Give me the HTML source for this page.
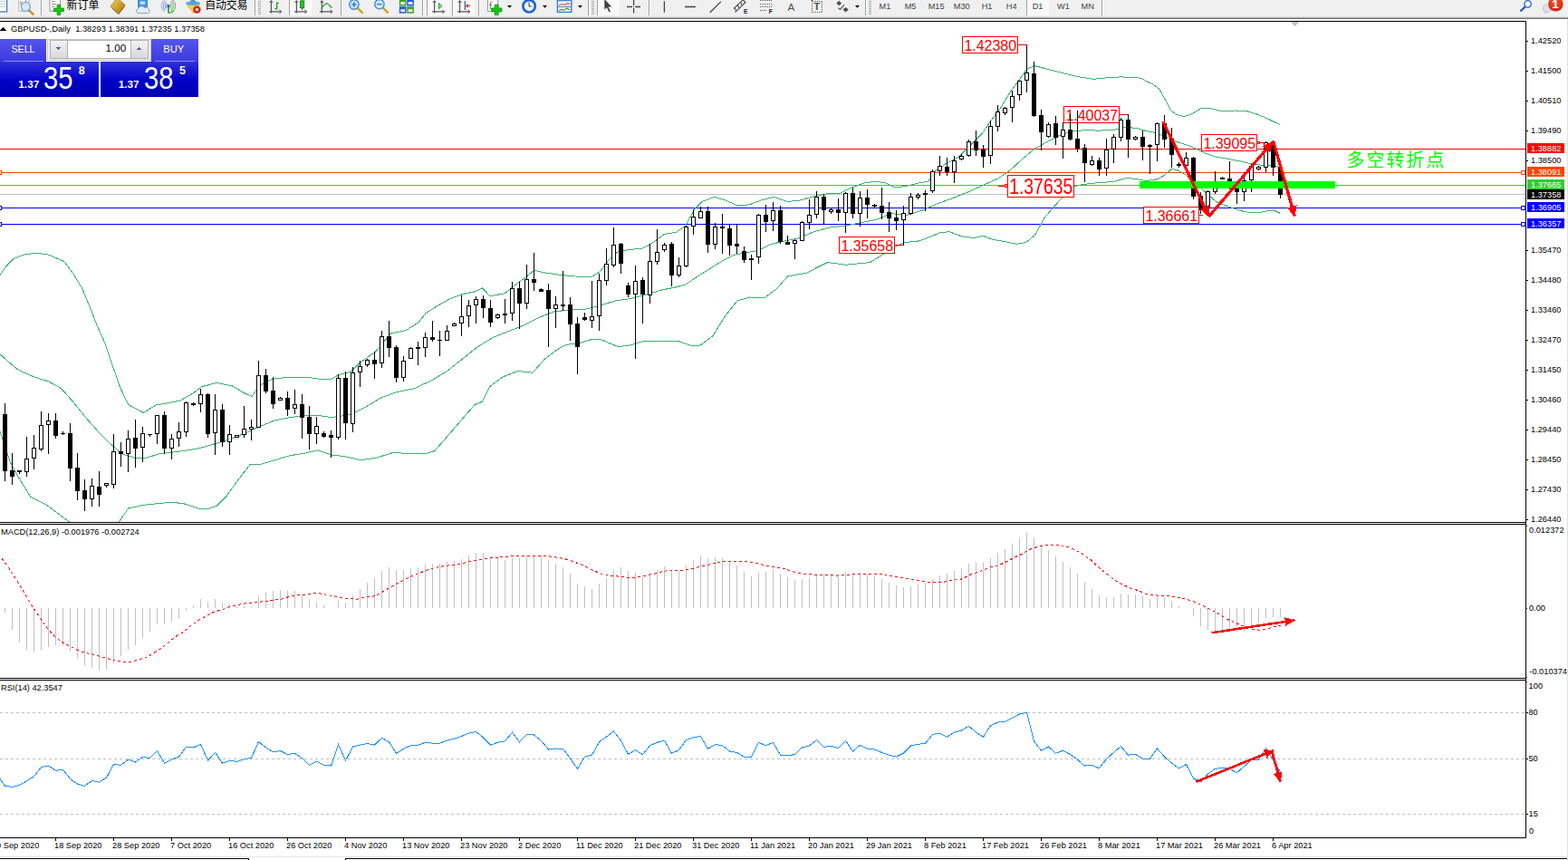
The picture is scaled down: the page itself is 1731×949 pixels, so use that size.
<!DOCTYPE html>
<html><head><meta charset="utf-8"><title>GBPUSD Daily</title>
<style>
html,body{margin:0;padding:0;background:#fff;}
body{width:1731px;height:949px;overflow:hidden;position:relative;font-family:"Liberation Sans", sans-serif;}
.t{position:absolute;white-space:nowrap;line-height:1;transform:translateY(-0.8465em);font-family:"Liberation Sans", sans-serif;}
.t[style*="text-align:center"]{transform:none;}
svg{position:absolute;left:0;top:0;}
</style></head><body>
<svg width="1731" height="949" viewBox="0 0 1731 949" shape-rendering="crispEdges">
<defs><clipPath id="cm"><rect x="0" y="24" width="1684" height="552"/></clipPath></defs>
<rect x="0" y="23" width="1685" height="1" fill="#000"/>
<rect x="1684" y="23" width="1" height="902" fill="#000"/>
<rect x="0" y="576" width="1685" height="1" fill="#000"/>
<rect x="0" y="578" width="1685" height="1" fill="#000"/>
<rect x="0" y="748" width="1685" height="1" fill="#000"/>
<rect x="0" y="750" width="1685" height="1" fill="#000"/>
<rect x="0" y="924" width="1685" height="1" fill="#000"/>
<rect x="0" y="945" width="1731" height="1" fill="#e6e6e6"/>
<rect x="0" y="947" width="275" height="1" fill="#000"/>
<rect x="274" y="947" width="1" height="2" fill="#000"/>
<rect x="381" y="947" width="1350" height="1" fill="#000"/>
<rect x="381" y="947" width="1" height="2" fill="#000"/>
<rect x="1730" y="21" width="1" height="928" fill="#e2e2e2"/>
<rect x="0" y="164" width="1684" height="1" fill="#ff0000"/>
<rect x="0" y="190" width="1684" height="1" fill="#ff4500"/>
<rect x="0" y="204" width="1684" height="1" fill="#32cd32"/>
<rect x="0" y="214" width="1684" height="1" fill="#c0c0c0"/>
<rect x="0" y="229" width="1684" height="1" fill="#0000ff"/>
<rect x="0" y="247" width="1684" height="1" fill="#0000ff"/>
<g clip-path="url(#cm)">
<polyline points="0.0,303.8 6.7,293.7 15.2,285.3 27.0,280.9 40.4,279.2 53.9,281.2 70.8,288.6 80.9,302.1 91.0,319.0 99.4,339.2 107.9,361.1 116.3,379.6 124.7,404.9 133.1,428.5 141.6,446.4 150.0,451.1 158.4,455.5 171.9,447.1 185.4,444.7 198.9,442.0 212.3,434.6 222.4,426.8 239.3,422.5 256.2,425.8 269.6,433.6 278.1,437.6 286.5,425.1 300.0,418.4 320.2,416.0 337.0,416.0 353.9,418.4 365.7,418.4 374.1,413.4 387.6,410.0 397.7,399.9 414.6,388.1 431.4,367.9 448.3,364.5 461.7,356.1 470.1,345.5 483.6,337.1 497.1,329.6 510.6,324.6 524.0,321.9 532.5,317.8 540.9,326.9 557.7,323.6 567.9,315.1 578.0,307.7 589.8,298.3 601.6,301.0 618.4,303.4 635.3,305.0 652.1,306.0 662.2,300.0 672.3,286.5 682.4,277.4 695.9,275.4 709.4,274.0 722.9,266.3 733.0,258.5 746.5,256.2 756.6,249.4 766.7,230.9 775.1,222.5 788.6,217.4 800.4,220.8 813.9,226.8 827.4,225.8 840.9,220.8 854.3,217.4 869.5,222.5 884.7,220.8 899.1,216.4 913.5,213.7 927.0,213.7 940.4,206.9 953.9,201.9 967.4,200.2 977.5,201.9 987.6,206.9 1001.1,205.3 1014.6,201.9 1024.7,200.2 1033.1,188.4 1044.9,180.0 1058.4,173.2 1071.9,159.8 1083.7,148.0 1095.5,131.1 1105.6,117.6 1115.7,100.8 1125.8,87.3 1134.2,75.5 1142.7,72.8 1156.2,76.2 1173.0,80.6 1189.9,84.6 1206.7,87.3 1223.6,85.6 1237.0,84.9 1253.9,85.6 1260.6,86.6 1265.9,90.0 1272.2,92.5 1279.5,97.9 1286.6,110.5 1292.2,121.6 1298.5,126.2 1306.9,128.6 1315.4,125.8 1320.6,122.7 1325.9,119.5 1336.4,119.5 1349.1,122.7 1363.8,122.0 1376.4,122.7 1387.0,125.8 1399.6,131.1 1413.3,137.8" fill="none" stroke="#3cb371" stroke-width="1"/>
<polyline points="0.0,390.8 10.1,399.9 20.2,408.3 37.1,415.7 53.9,421.1 67.4,428.5 80.9,443.7 94.4,460.5 107.9,475.7 121.3,489.2 134.8,501.0 148.3,505.0 161.8,505.0 175.3,501.0 188.7,499.3 202.2,497.6 219.1,494.9 235.9,490.2 252.8,485.1 269.6,478.4 286.5,470.7 303.3,463.9 320.2,460.5 337.0,458.9 353.9,458.9 365.7,460.5 374.1,459.5 387.6,457.2 404.4,448.7 421.3,438.6 438.2,432.6 457.5,428.6 476.9,419.6 493.7,409.5 510.6,396.0 527.4,382.6 544.3,372.4 561.1,365.7 578.0,359.0 594.8,350.5 611.7,343.8 628.5,342.1 645.4,341.4 662.2,337.1 679.1,332.0 695.9,329.6 712.8,325.3 729.6,320.2 746.5,316.8 756.6,314.1 770.1,305.0 783.6,296.6 797.0,288.2 810.5,281.4 824.0,278.7 837.5,276.4 851.0,269.6 864.4,266.3 881.3,262.9 899.1,255.5 916.9,250.8 933.7,249.1 950.6,245.7 967.4,242.3 984.3,235.6 1001.1,237.3 1018.0,232.2 1034.8,224.8 1051.7,218.7 1068.5,212.0 1085.4,204.3 1102.2,196.8 1115.7,187.4 1129.2,174.9 1142.7,163.8 1156.2,156.4 1169.8,149.3 1182.6,145.2 1197.4,143.7 1212.1,144.1 1229.0,143.7 1239.5,140.6 1254.3,141.2 1264.8,144.4 1275.3,146.5 1288.0,151.1 1298.5,156.4 1309.0,159.5 1317.5,162.7 1330.1,169.0 1342.7,173.2 1355.4,175.3 1370.1,178.1 1380.7,180.6 1393.3,182.3 1403.8,182.7 1413.3,184.4" fill="none" stroke="#3cb371" stroke-width="1"/>
<polyline points="0.0,475.7 5.1,490.9 11.8,511.1 20.2,526.3 33.7,548.2 50.6,556.6 64.0,566.7 77.5,576.8 82.6,580.9" fill="none" stroke="#3cb371" stroke-width="1"/>
<polyline points="129.4,578.8 141.6,561.0 158.4,557.3 175.3,555.6 188.7,554.2 202.2,555.6 219.1,561.0 229.2,561.7 239.3,558.3 249.4,548.2 262.9,529.6 276.4,512.1 286.5,512.8 303.3,507.7 320.2,502.7 337.0,500.0 350.5,496.9 365.7,502.0 380.9,503.7 397.7,507.7 414.6,505.4 434.8,499.3 455.0,501.0 471.9,500.0 479.9,497.6 524.0,446.6 532.5,443.2 540.9,426.4 554.4,416.3 571.2,409.5 588.1,411.2 601.6,396.0 615.0,385.9 625.1,380.2 638.6,379.2 652.1,374.8 662.2,374.1 672.3,378.5 682.4,382.6 695.9,380.9 709.4,376.8 722.9,376.5 749.9,376.8 763.3,381.5 773.4,380.9 786.9,370.8 800.4,348.9 813.9,332.0 827.4,328.0 844.2,328.6 857.7,318.5 869.5,305.0 891.4,301.0 900.0,296.3 913.5,289.5 933.7,292.2 960.7,289.5 974.1,281.1 987.6,272.7 997.7,267.6 1014.6,265.9 1028.1,260.9 1038.2,256.5 1048.3,255.8 1061.8,260.9 1075.3,262.6 1085.4,260.2 1095.5,264.2 1109.0,266.6 1122.4,269.3 1132.6,267.6 1142.7,259.2 1152.8,240.7 1162.9,228.9 1174.1,216.5 1184.6,205.9 1195.9,203.5 1212.1,201.6 1229.0,200.6 1243.7,196.4 1254.3,197.4 1264.8,199.5 1277.4,197.9 1285.9,193.2 1293.2,186.5 1300.6,188.0 1309.0,193.2 1317.5,199.5 1325.9,208.0 1334.3,215.3 1342.7,222.7 1353.3,226.9 1363.8,230.7 1372.2,233.2 1380.7,234.7 1391.2,234.3 1401.7,232.2 1408.0,232.8 1413.3,235.4" fill="none" stroke="#3cb371" stroke-width="1"/>
</g>
</svg>

<div style="position:absolute;left:0;top:43px;width:219px;height:64px;background:#fff"></div>
<div style="position:absolute;left:0;top:43px;width:51px;height:25px;background:linear-gradient(#5555ee,#3a3ae0)"></div>
<div style="position:absolute;left:167px;top:43px;width:52px;height:25px;background:linear-gradient(#5555ee,#3a3ae0)"></div>
<div style="position:absolute;left:0;top:68px;width:109px;height:39px;background:linear-gradient(#3030d8,#0000c8 55%,#0000b0)"></div>
<div style="position:absolute;left:111px;top:68px;width:108px;height:39px;background:linear-gradient(#3030d8,#0000c8 55%,#0000b0)"></div>
<div style="position:absolute;left:4px;top:67px;width:44px;height:1px;background:#8a8aff"></div>
<div style="position:absolute;left:171px;top:67px;width:44px;height:1px;background:#8a8aff"></div>
<div style="position:absolute;left:52px;top:43px;width:115px;height:24px;background:#f0f0f0;border:1px solid #c8c8c8;box-sizing:border-box"></div>
<div style="position:absolute;left:55px;top:44px;width:20px;height:21px;background:linear-gradient(#f4f4f4,#d8d8d8);border:1px solid #b0b0b0;box-sizing:border-box"></div>
<div style="position:absolute;left:144px;top:44px;width:20px;height:21px;background:linear-gradient(#f4f4f4,#d8d8d8);border:1px solid #b0b0b0;box-sizing:border-box"></div>
<div style="position:absolute;left:75px;top:44px;width:69px;height:21px;background:#fff;border-top:1px solid #b0b0b0;border-bottom:1px solid #b0b0b0;box-sizing:border-box"></div>

<svg width="1731" height="949" viewBox="0 0 1731 949" shape-rendering="crispEdges">
<rect x="1174.5" y="117.5" width="61" height="18" fill="#fff" stroke="#ff0000" stroke-width="1"/>
<text x="1176.4" y="133.1" font-family="Liberation Sans, sans-serif" font-size="17" fill="#ff0000" textLength="57.6" lengthAdjust="spacingAndGlyphs">1.40037</text>
<rect x="1236" y="126" width="10" height="1" fill="#ff0000"/>
<rect x="5" y="445" width="1" height="86" fill="#000"/>
<rect x="3" y="457" width="5" height="63" fill="#000"/>
<rect x="13" y="500" width="1" height="35" fill="#000"/>
<rect x="11" y="519" width="5" height="7" fill="#000"/>
<rect x="21" y="519" width="1" height="4" fill="#000"/>
<rect x="19" y="519" width="5" height="2" fill="#000"/>
<rect x="29" y="482" width="1" height="44" fill="#000"/>
<rect x="27" y="506" width="5" height="15" fill="#000"/>
<rect x="28" y="507" width="3" height="13" fill="#fff"/>
<rect x="37" y="480" width="1" height="38" fill="#000"/>
<rect x="35" y="494" width="5" height="12" fill="#000"/>
<rect x="36" y="495" width="3" height="10" fill="#fff"/>
<rect x="45" y="454" width="1" height="44" fill="#000"/>
<rect x="43" y="469" width="5" height="27" fill="#000"/>
<rect x="44" y="470" width="3" height="25" fill="#fff"/>
<rect x="53" y="456" width="1" height="45" fill="#000"/>
<rect x="51" y="464" width="5" height="5" fill="#000"/>
<rect x="52" y="465" width="3" height="3" fill="#fff"/>
<rect x="61" y="456" width="1" height="28" fill="#000"/>
<rect x="59" y="464" width="5" height="17" fill="#000"/>
<rect x="69" y="476" width="1" height="4" fill="#000"/>
<rect x="67" y="478" width="5" height="1" fill="#000"/>
<rect x="77" y="467" width="1" height="64" fill="#000"/>
<rect x="75" y="478" width="5" height="39" fill="#000"/>
<rect x="85" y="500" width="1" height="52" fill="#000"/>
<rect x="83" y="516" width="5" height="26" fill="#000"/>
<rect x="93" y="529" width="1" height="35" fill="#000"/>
<rect x="91" y="541" width="5" height="10" fill="#000"/>
<rect x="101" y="528" width="1" height="31" fill="#000"/>
<rect x="99" y="536" width="5" height="15" fill="#000"/>
<rect x="100" y="537" width="3" height="13" fill="#fff"/>
<rect x="109" y="520" width="1" height="39" fill="#000"/>
<rect x="107" y="537" width="5" height="9" fill="#000"/>
<rect x="117" y="533" width="1" height="5" fill="#000"/>
<rect x="115" y="533" width="5" height="3" fill="#000"/>
<rect x="116" y="534" width="3" height="1" fill="#fff"/>
<rect x="125" y="479" width="1" height="60" fill="#000"/>
<rect x="123" y="498" width="5" height="37" fill="#000"/>
<rect x="124" y="499" width="3" height="35" fill="#fff"/>
<rect x="133" y="488" width="1" height="27" fill="#000"/>
<rect x="131" y="498" width="5" height="3" fill="#000"/>
<rect x="141" y="475" width="1" height="46" fill="#000"/>
<rect x="139" y="484" width="5" height="17" fill="#000"/>
<rect x="140" y="485" width="3" height="15" fill="#fff"/>
<rect x="149" y="463" width="1" height="53" fill="#000"/>
<rect x="147" y="483" width="5" height="12" fill="#000"/>
<rect x="157" y="471" width="1" height="39" fill="#000"/>
<rect x="155" y="478" width="5" height="16" fill="#000"/>
<rect x="156" y="479" width="3" height="14" fill="#fff"/>
<rect x="165" y="479" width="1" height="3" fill="#000"/>
<rect x="163" y="479" width="5" height="1" fill="#000"/>
<rect x="173" y="458" width="1" height="32" fill="#000"/>
<rect x="171" y="458" width="5" height="21" fill="#000"/>
<rect x="172" y="459" width="3" height="19" fill="#fff"/>
<rect x="181" y="454" width="1" height="47" fill="#000"/>
<rect x="179" y="458" width="5" height="37" fill="#000"/>
<rect x="189" y="479" width="1" height="28" fill="#000"/>
<rect x="187" y="484" width="5" height="11" fill="#000"/>
<rect x="188" y="485" width="3" height="9" fill="#fff"/>
<rect x="197" y="466" width="1" height="27" fill="#000"/>
<rect x="195" y="476" width="5" height="8" fill="#000"/>
<rect x="196" y="477" width="3" height="6" fill="#fff"/>
<rect x="205" y="443" width="1" height="39" fill="#000"/>
<rect x="203" y="444" width="5" height="33" fill="#000"/>
<rect x="204" y="445" width="3" height="31" fill="#fff"/>
<rect x="213" y="444" width="1" height="4" fill="#000"/>
<rect x="211" y="445" width="5" height="2" fill="#000"/>
<rect x="221" y="429" width="1" height="26" fill="#000"/>
<rect x="219" y="435" width="5" height="11" fill="#000"/>
<rect x="220" y="436" width="3" height="9" fill="#fff"/>
<rect x="229" y="434" width="1" height="49" fill="#000"/>
<rect x="227" y="435" width="5" height="44" fill="#000"/>
<rect x="237" y="435" width="1" height="67" fill="#000"/>
<rect x="235" y="452" width="5" height="26" fill="#000"/>
<rect x="236" y="453" width="3" height="24" fill="#fff"/>
<rect x="245" y="446" width="1" height="47" fill="#000"/>
<rect x="243" y="452" width="5" height="36" fill="#000"/>
<rect x="253" y="469" width="1" height="33" fill="#000"/>
<rect x="251" y="479" width="5" height="9" fill="#000"/>
<rect x="252" y="480" width="3" height="7" fill="#fff"/>
<rect x="261" y="480" width="1" height="3" fill="#000"/>
<rect x="259" y="480" width="5" height="3" fill="#000"/>
<rect x="260" y="481" width="3" height="1" fill="#fff"/>
<rect x="269" y="448" width="1" height="35" fill="#000"/>
<rect x="267" y="473" width="5" height="7" fill="#000"/>
<rect x="268" y="474" width="3" height="5" fill="#fff"/>
<rect x="277" y="463" width="1" height="23" fill="#000"/>
<rect x="275" y="471" width="5" height="3" fill="#000"/>
<rect x="276" y="472" width="3" height="1" fill="#fff"/>
<rect x="285" y="398" width="1" height="74" fill="#000"/>
<rect x="283" y="414" width="5" height="58" fill="#000"/>
<rect x="284" y="415" width="3" height="56" fill="#fff"/>
<rect x="293" y="407" width="1" height="27" fill="#000"/>
<rect x="291" y="414" width="5" height="18" fill="#000"/>
<rect x="301" y="416" width="1" height="35" fill="#000"/>
<rect x="299" y="431" width="5" height="15" fill="#000"/>
<rect x="309" y="438" width="1" height="4" fill="#000"/>
<rect x="307" y="439" width="5" height="3" fill="#000"/>
<rect x="308" y="440" width="3" height="1" fill="#fff"/>
<rect x="317" y="432" width="1" height="27" fill="#000"/>
<rect x="315" y="439" width="5" height="13" fill="#000"/>
<rect x="325" y="430" width="1" height="27" fill="#000"/>
<rect x="323" y="446" width="5" height="5" fill="#000"/>
<rect x="324" y="447" width="3" height="3" fill="#fff"/>
<rect x="333" y="435" width="1" height="49" fill="#000"/>
<rect x="331" y="446" width="5" height="15" fill="#000"/>
<rect x="341" y="448" width="1" height="48" fill="#000"/>
<rect x="339" y="460" width="5" height="19" fill="#000"/>
<rect x="349" y="460" width="1" height="30" fill="#000"/>
<rect x="347" y="470" width="5" height="9" fill="#000"/>
<rect x="348" y="471" width="3" height="7" fill="#fff"/>
<rect x="357" y="476" width="1" height="7" fill="#000"/>
<rect x="355" y="478" width="5" height="4" fill="#000"/>
<rect x="365" y="475" width="1" height="30" fill="#000"/>
<rect x="363" y="480" width="5" height="3" fill="#000"/>
<rect x="373" y="413" width="1" height="72" fill="#000"/>
<rect x="371" y="417" width="5" height="66" fill="#000"/>
<rect x="372" y="418" width="3" height="64" fill="#fff"/>
<rect x="381" y="410" width="1" height="75" fill="#000"/>
<rect x="379" y="417" width="5" height="50" fill="#000"/>
<rect x="389" y="405" width="1" height="72" fill="#000"/>
<rect x="387" y="411" width="5" height="57" fill="#000"/>
<rect x="388" y="412" width="3" height="55" fill="#fff"/>
<rect x="397" y="398" width="1" height="29" fill="#000"/>
<rect x="395" y="404" width="5" height="7" fill="#000"/>
<rect x="396" y="405" width="3" height="5" fill="#fff"/>
<rect x="405" y="396" width="1" height="9" fill="#000"/>
<rect x="403" y="397" width="5" height="6" fill="#000"/>
<rect x="404" y="398" width="3" height="4" fill="#fff"/>
<rect x="413" y="388" width="1" height="30" fill="#000"/>
<rect x="411" y="397" width="5" height="5" fill="#000"/>
<rect x="421" y="365" width="1" height="41" fill="#000"/>
<rect x="419" y="371" width="5" height="30" fill="#000"/>
<rect x="420" y="372" width="3" height="28" fill="#fff"/>
<rect x="429" y="354" width="1" height="40" fill="#000"/>
<rect x="427" y="371" width="5" height="13" fill="#000"/>
<rect x="437" y="381" width="1" height="41" fill="#000"/>
<rect x="435" y="383" width="5" height="34" fill="#000"/>
<rect x="445" y="393" width="1" height="28" fill="#000"/>
<rect x="443" y="398" width="5" height="19" fill="#000"/>
<rect x="444" y="399" width="3" height="17" fill="#fff"/>
<rect x="453" y="383" width="1" height="13" fill="#000"/>
<rect x="451" y="384" width="5" height="12" fill="#000"/>
<rect x="452" y="385" width="3" height="10" fill="#fff"/>
<rect x="461" y="377" width="1" height="26" fill="#000"/>
<rect x="459" y="383" width="5" height="2" fill="#000"/>
<rect x="469" y="367" width="1" height="27" fill="#000"/>
<rect x="467" y="372" width="5" height="12" fill="#000"/>
<rect x="468" y="373" width="3" height="10" fill="#fff"/>
<rect x="477" y="354" width="1" height="23" fill="#000"/>
<rect x="475" y="372" width="5" height="3" fill="#000"/>
<rect x="485" y="365" width="1" height="28" fill="#000"/>
<rect x="483" y="375" width="5" height="1" fill="#000"/>
<rect x="493" y="359" width="1" height="17" fill="#000"/>
<rect x="491" y="365" width="5" height="11" fill="#000"/>
<rect x="492" y="366" width="3" height="9" fill="#fff"/>
<rect x="501" y="356" width="1" height="4" fill="#000"/>
<rect x="499" y="357" width="5" height="3" fill="#000"/>
<rect x="500" y="358" width="3" height="1" fill="#fff"/>
<rect x="509" y="326" width="1" height="45" fill="#000"/>
<rect x="507" y="349" width="5" height="8" fill="#000"/>
<rect x="508" y="350" width="3" height="6" fill="#fff"/>
<rect x="517" y="331" width="1" height="30" fill="#000"/>
<rect x="515" y="337" width="5" height="12" fill="#000"/>
<rect x="516" y="338" width="3" height="10" fill="#fff"/>
<rect x="525" y="327" width="1" height="30" fill="#000"/>
<rect x="523" y="330" width="5" height="7" fill="#000"/>
<rect x="524" y="331" width="3" height="5" fill="#fff"/>
<rect x="533" y="326" width="1" height="25" fill="#000"/>
<rect x="531" y="330" width="5" height="10" fill="#000"/>
<rect x="541" y="331" width="1" height="30" fill="#000"/>
<rect x="539" y="340" width="5" height="16" fill="#000"/>
<rect x="549" y="346" width="1" height="6" fill="#000"/>
<rect x="547" y="347" width="5" height="4" fill="#000"/>
<rect x="548" y="348" width="3" height="2" fill="#fff"/>
<rect x="557" y="330" width="1" height="27" fill="#000"/>
<rect x="555" y="346" width="5" height="2" fill="#000"/>
<rect x="565" y="311" width="1" height="43" fill="#000"/>
<rect x="563" y="318" width="5" height="28" fill="#000"/>
<rect x="564" y="319" width="3" height="26" fill="#fff"/>
<rect x="573" y="311" width="1" height="52" fill="#000"/>
<rect x="571" y="318" width="5" height="17" fill="#000"/>
<rect x="581" y="292" width="1" height="49" fill="#000"/>
<rect x="579" y="308" width="5" height="27" fill="#000"/>
<rect x="580" y="309" width="3" height="25" fill="#fff"/>
<rect x="589" y="279" width="1" height="42" fill="#000"/>
<rect x="587" y="308" width="5" height="4" fill="#000"/>
<rect x="597" y="318" width="1" height="4" fill="#000"/>
<rect x="595" y="319" width="5" height="3" fill="#000"/>
<rect x="605" y="313" width="1" height="70" fill="#000"/>
<rect x="603" y="320" width="5" height="21" fill="#000"/>
<rect x="613" y="327" width="1" height="35" fill="#000"/>
<rect x="611" y="336" width="5" height="5" fill="#000"/>
<rect x="612" y="337" width="3" height="3" fill="#fff"/>
<rect x="621" y="299" width="1" height="44" fill="#000"/>
<rect x="619" y="336" width="5" height="2" fill="#000"/>
<rect x="629" y="328" width="1" height="48" fill="#000"/>
<rect x="627" y="336" width="5" height="22" fill="#000"/>
<rect x="637" y="350" width="1" height="63" fill="#000"/>
<rect x="635" y="357" width="5" height="26" fill="#000"/>
<rect x="645" y="345" width="1" height="9" fill="#000"/>
<rect x="643" y="350" width="5" height="3" fill="#000"/>
<rect x="653" y="310" width="1" height="52" fill="#000"/>
<rect x="651" y="349" width="5" height="5" fill="#000"/>
<rect x="652" y="350" width="3" height="3" fill="#fff"/>
<rect x="661" y="302" width="1" height="63" fill="#000"/>
<rect x="659" y="309" width="5" height="40" fill="#000"/>
<rect x="660" y="310" width="3" height="38" fill="#fff"/>
<rect x="669" y="274" width="1" height="41" fill="#000"/>
<rect x="667" y="291" width="5" height="19" fill="#000"/>
<rect x="668" y="292" width="3" height="17" fill="#fff"/>
<rect x="677" y="251" width="1" height="44" fill="#000"/>
<rect x="675" y="270" width="5" height="23" fill="#000"/>
<rect x="676" y="271" width="3" height="21" fill="#fff"/>
<rect x="685" y="268" width="1" height="34" fill="#000"/>
<rect x="683" y="269" width="5" height="22" fill="#000"/>
<rect x="693" y="312" width="1" height="16" fill="#000"/>
<rect x="691" y="315" width="5" height="10" fill="#000"/>
<rect x="701" y="293" width="1" height="103" fill="#000"/>
<rect x="699" y="310" width="5" height="15" fill="#000"/>
<rect x="700" y="311" width="3" height="13" fill="#fff"/>
<rect x="709" y="306" width="1" height="51" fill="#000"/>
<rect x="707" y="309" width="5" height="16" fill="#000"/>
<rect x="717" y="269" width="1" height="66" fill="#000"/>
<rect x="715" y="288" width="5" height="38" fill="#000"/>
<rect x="716" y="289" width="3" height="36" fill="#fff"/>
<rect x="725" y="253" width="1" height="39" fill="#000"/>
<rect x="723" y="278" width="5" height="11" fill="#000"/>
<rect x="724" y="279" width="3" height="9" fill="#fff"/>
<rect x="733" y="268" width="1" height="10" fill="#000"/>
<rect x="731" y="270" width="5" height="6" fill="#000"/>
<rect x="732" y="271" width="3" height="4" fill="#fff"/>
<rect x="741" y="267" width="1" height="49" fill="#000"/>
<rect x="739" y="269" width="5" height="35" fill="#000"/>
<rect x="749" y="284" width="1" height="22" fill="#000"/>
<rect x="747" y="293" width="5" height="11" fill="#000"/>
<rect x="748" y="294" width="3" height="9" fill="#fff"/>
<rect x="757" y="249" width="1" height="46" fill="#000"/>
<rect x="755" y="250" width="5" height="44" fill="#000"/>
<rect x="756" y="251" width="3" height="42" fill="#fff"/>
<rect x="765" y="231" width="1" height="28" fill="#000"/>
<rect x="763" y="239" width="5" height="11" fill="#000"/>
<rect x="764" y="240" width="3" height="9" fill="#fff"/>
<rect x="773" y="228" width="1" height="13" fill="#000"/>
<rect x="771" y="233" width="5" height="8" fill="#000"/>
<rect x="772" y="234" width="3" height="6" fill="#fff"/>
<rect x="781" y="228" width="1" height="51" fill="#000"/>
<rect x="779" y="233" width="5" height="37" fill="#000"/>
<rect x="789" y="246" width="1" height="29" fill="#000"/>
<rect x="787" y="250" width="5" height="20" fill="#000"/>
<rect x="788" y="251" width="3" height="18" fill="#fff"/>
<rect x="797" y="236" width="1" height="44" fill="#000"/>
<rect x="795" y="250" width="5" height="2" fill="#000"/>
<rect x="805" y="248" width="1" height="34" fill="#000"/>
<rect x="803" y="252" width="5" height="19" fill="#000"/>
<rect x="813" y="247" width="1" height="33" fill="#000"/>
<rect x="811" y="269" width="5" height="3" fill="#000"/>
<rect x="821" y="272" width="1" height="18" fill="#000"/>
<rect x="819" y="277" width="5" height="10" fill="#000"/>
<rect x="829" y="281" width="1" height="28" fill="#000"/>
<rect x="827" y="285" width="5" height="2" fill="#000"/>
<rect x="837" y="236" width="1" height="55" fill="#000"/>
<rect x="835" y="237" width="5" height="47" fill="#000"/>
<rect x="836" y="238" width="3" height="45" fill="#fff"/>
<rect x="845" y="226" width="1" height="30" fill="#000"/>
<rect x="843" y="237" width="5" height="8" fill="#000"/>
<rect x="853" y="223" width="1" height="32" fill="#000"/>
<rect x="851" y="232" width="5" height="12" fill="#000"/>
<rect x="852" y="233" width="3" height="10" fill="#fff"/>
<rect x="861" y="227" width="1" height="42" fill="#000"/>
<rect x="859" y="232" width="5" height="35" fill="#000"/>
<rect x="869" y="260" width="1" height="10" fill="#000"/>
<rect x="867" y="267" width="5" height="3" fill="#000"/>
<rect x="877" y="264" width="1" height="22" fill="#000"/>
<rect x="875" y="265" width="5" height="4" fill="#000"/>
<rect x="876" y="266" width="3" height="2" fill="#fff"/>
<rect x="885" y="244" width="1" height="22" fill="#000"/>
<rect x="883" y="245" width="5" height="21" fill="#000"/>
<rect x="884" y="246" width="3" height="19" fill="#fff"/>
<rect x="893" y="220" width="1" height="33" fill="#000"/>
<rect x="891" y="237" width="5" height="9" fill="#000"/>
<rect x="892" y="238" width="3" height="7" fill="#fff"/>
<rect x="901" y="211" width="1" height="30" fill="#000"/>
<rect x="899" y="217" width="5" height="20" fill="#000"/>
<rect x="900" y="218" width="3" height="18" fill="#fff"/>
<rect x="909" y="214" width="1" height="34" fill="#000"/>
<rect x="907" y="217" width="5" height="15" fill="#000"/>
<rect x="917" y="230" width="1" height="6" fill="#000"/>
<rect x="915" y="231" width="5" height="3" fill="#000"/>
<rect x="916" y="232" width="3" height="1" fill="#fff"/>
<rect x="925" y="219" width="1" height="25" fill="#000"/>
<rect x="923" y="231" width="5" height="4" fill="#000"/>
<rect x="933" y="212" width="1" height="45" fill="#000"/>
<rect x="931" y="213" width="5" height="22" fill="#000"/>
<rect x="932" y="214" width="3" height="20" fill="#fff"/>
<rect x="941" y="207" width="1" height="34" fill="#000"/>
<rect x="939" y="213" width="5" height="23" fill="#000"/>
<rect x="949" y="211" width="1" height="39" fill="#000"/>
<rect x="947" y="218" width="5" height="18" fill="#000"/>
<rect x="948" y="219" width="3" height="16" fill="#fff"/>
<rect x="957" y="209" width="1" height="32" fill="#000"/>
<rect x="955" y="218" width="5" height="8" fill="#000"/>
<rect x="965" y="225" width="1" height="4" fill="#000"/>
<rect x="963" y="226" width="5" height="2" fill="#000"/>
<rect x="973" y="207" width="1" height="35" fill="#000"/>
<rect x="971" y="227" width="5" height="8" fill="#000"/>
<rect x="981" y="223" width="1" height="33" fill="#000"/>
<rect x="979" y="234" width="5" height="7" fill="#000"/>
<rect x="989" y="232" width="1" height="22" fill="#000"/>
<rect x="987" y="240" width="5" height="4" fill="#000"/>
<rect x="997" y="227" width="1" height="44" fill="#000"/>
<rect x="995" y="235" width="5" height="8" fill="#000"/>
<rect x="996" y="236" width="3" height="6" fill="#fff"/>
<rect x="1005" y="213" width="1" height="24" fill="#000"/>
<rect x="1003" y="217" width="5" height="19" fill="#000"/>
<rect x="1004" y="218" width="3" height="17" fill="#fff"/>
<rect x="1013" y="213" width="1" height="7" fill="#000"/>
<rect x="1011" y="215" width="5" height="3" fill="#000"/>
<rect x="1012" y="216" width="3" height="1" fill="#fff"/>
<rect x="1021" y="210" width="1" height="23" fill="#000"/>
<rect x="1019" y="213" width="5" height="2" fill="#000"/>
<rect x="1029" y="187" width="1" height="26" fill="#000"/>
<rect x="1027" y="189" width="5" height="22" fill="#000"/>
<rect x="1028" y="190" width="3" height="20" fill="#fff"/>
<rect x="1037" y="172" width="1" height="22" fill="#000"/>
<rect x="1035" y="183" width="5" height="6" fill="#000"/>
<rect x="1036" y="184" width="3" height="4" fill="#fff"/>
<rect x="1045" y="174" width="1" height="20" fill="#000"/>
<rect x="1043" y="184" width="5" height="6" fill="#000"/>
<rect x="1053" y="172" width="1" height="30" fill="#000"/>
<rect x="1051" y="177" width="5" height="13" fill="#000"/>
<rect x="1052" y="178" width="3" height="11" fill="#fff"/>
<rect x="1061" y="170" width="1" height="7" fill="#000"/>
<rect x="1059" y="172" width="5" height="4" fill="#000"/>
<rect x="1060" y="173" width="3" height="2" fill="#fff"/>
<rect x="1069" y="154" width="1" height="19" fill="#000"/>
<rect x="1067" y="156" width="5" height="16" fill="#000"/>
<rect x="1068" y="157" width="3" height="14" fill="#fff"/>
<rect x="1077" y="144" width="1" height="28" fill="#000"/>
<rect x="1075" y="156" width="5" height="10" fill="#000"/>
<rect x="1085" y="160" width="1" height="25" fill="#000"/>
<rect x="1083" y="165" width="5" height="8" fill="#000"/>
<rect x="1093" y="133" width="1" height="48" fill="#000"/>
<rect x="1091" y="139" width="5" height="33" fill="#000"/>
<rect x="1092" y="140" width="3" height="31" fill="#fff"/>
<rect x="1101" y="116" width="1" height="29" fill="#000"/>
<rect x="1099" y="123" width="5" height="17" fill="#000"/>
<rect x="1100" y="124" width="3" height="15" fill="#fff"/>
<rect x="1109" y="118" width="1" height="9" fill="#000"/>
<rect x="1107" y="119" width="5" height="6" fill="#000"/>
<rect x="1108" y="120" width="3" height="4" fill="#fff"/>
<rect x="1117" y="100" width="1" height="35" fill="#000"/>
<rect x="1115" y="106" width="5" height="13" fill="#000"/>
<rect x="1116" y="107" width="3" height="11" fill="#fff"/>
<rect x="1125" y="89" width="1" height="22" fill="#000"/>
<rect x="1123" y="89" width="5" height="16" fill="#000"/>
<rect x="1124" y="90" width="3" height="14" fill="#fff"/>
<rect x="1133" y="49" width="1" height="53" fill="#000"/>
<rect x="1131" y="80" width="5" height="9" fill="#000"/>
<rect x="1132" y="81" width="3" height="7" fill="#fff"/>
<rect x="1141" y="68" width="1" height="61" fill="#000"/>
<rect x="1139" y="81" width="5" height="47" fill="#000"/>
<rect x="1149" y="121" width="1" height="45" fill="#000"/>
<rect x="1147" y="127" width="5" height="19" fill="#000"/>
<rect x="1157" y="135" width="1" height="17" fill="#000"/>
<rect x="1155" y="137" width="5" height="14" fill="#000"/>
<rect x="1156" y="138" width="3" height="12" fill="#fff"/>
<rect x="1165" y="128" width="1" height="32" fill="#000"/>
<rect x="1163" y="136" width="5" height="16" fill="#000"/>
<rect x="1173" y="135" width="1" height="40" fill="#000"/>
<rect x="1171" y="143" width="5" height="8" fill="#000"/>
<rect x="1172" y="144" width="3" height="6" fill="#fff"/>
<rect x="1181" y="126" width="1" height="29" fill="#000"/>
<rect x="1179" y="143" width="5" height="11" fill="#000"/>
<rect x="1189" y="122" width="1" height="46" fill="#000"/>
<rect x="1187" y="153" width="5" height="11" fill="#000"/>
<rect x="1197" y="159" width="1" height="42" fill="#000"/>
<rect x="1195" y="163" width="5" height="17" fill="#000"/>
<rect x="1205" y="172" width="1" height="11" fill="#000"/>
<rect x="1203" y="177" width="5" height="5" fill="#000"/>
<rect x="1204" y="178" width="3" height="3" fill="#fff"/>
<rect x="1213" y="174" width="1" height="20" fill="#000"/>
<rect x="1211" y="177" width="5" height="10" fill="#000"/>
<rect x="1221" y="153" width="1" height="41" fill="#000"/>
<rect x="1219" y="165" width="5" height="21" fill="#000"/>
<rect x="1220" y="166" width="3" height="19" fill="#fff"/>
<rect x="1229" y="148" width="1" height="32" fill="#000"/>
<rect x="1227" y="151" width="5" height="14" fill="#000"/>
<rect x="1228" y="152" width="3" height="12" fill="#fff"/>
<rect x="1237" y="130" width="1" height="26" fill="#000"/>
<rect x="1235" y="132" width="5" height="20" fill="#000"/>
<rect x="1236" y="133" width="3" height="18" fill="#fff"/>
<rect x="1245" y="126" width="1" height="48" fill="#000"/>
<rect x="1243" y="132" width="5" height="22" fill="#000"/>
<rect x="1253" y="150" width="1" height="5" fill="#000"/>
<rect x="1251" y="151" width="5" height="3" fill="#000"/>
<rect x="1252" y="152" width="3" height="1" fill="#fff"/>
<rect x="1261" y="144" width="1" height="33" fill="#000"/>
<rect x="1259" y="151" width="5" height="11" fill="#000"/>
<rect x="1269" y="159" width="1" height="33" fill="#000"/>
<rect x="1267" y="160" width="5" height="2" fill="#000"/>
<rect x="1277" y="135" width="1" height="43" fill="#000"/>
<rect x="1275" y="136" width="5" height="24" fill="#000"/>
<rect x="1276" y="137" width="3" height="22" fill="#fff"/>
<rect x="1285" y="127" width="1" height="36" fill="#000"/>
<rect x="1283" y="136" width="5" height="18" fill="#000"/>
<rect x="1293" y="141" width="1" height="44" fill="#000"/>
<rect x="1291" y="153" width="5" height="18" fill="#000"/>
<rect x="1301" y="179" width="1" height="6" fill="#000"/>
<rect x="1299" y="181" width="5" height="2" fill="#000"/>
<rect x="1309" y="168" width="1" height="15" fill="#000"/>
<rect x="1307" y="174" width="5" height="9" fill="#000"/>
<rect x="1308" y="175" width="3" height="7" fill="#fff"/>
<rect x="1317" y="173" width="1" height="47" fill="#000"/>
<rect x="1315" y="174" width="5" height="43" fill="#000"/>
<rect x="1325" y="212" width="1" height="24" fill="#000"/>
<rect x="1323" y="216" width="5" height="16" fill="#000"/>
<rect x="1333" y="210" width="1" height="21" fill="#000"/>
<rect x="1331" y="211" width="5" height="19" fill="#000"/>
<rect x="1332" y="212" width="3" height="17" fill="#fff"/>
<rect x="1341" y="189" width="1" height="25" fill="#000"/>
<rect x="1339" y="200" width="5" height="12" fill="#000"/>
<rect x="1340" y="201" width="3" height="10" fill="#fff"/>
<rect x="1349" y="195" width="1" height="2" fill="#000"/>
<rect x="1347" y="196" width="5" height="2" fill="#000"/>
<rect x="1357" y="178" width="1" height="31" fill="#000"/>
<rect x="1355" y="197" width="5" height="9" fill="#000"/>
<rect x="1365" y="200" width="1" height="25" fill="#000"/>
<rect x="1363" y="206" width="5" height="6" fill="#000"/>
<rect x="1373" y="190" width="1" height="32" fill="#000"/>
<rect x="1371" y="199" width="5" height="13" fill="#000"/>
<rect x="1372" y="200" width="3" height="11" fill="#fff"/>
<rect x="1381" y="181" width="1" height="31" fill="#000"/>
<rect x="1379" y="183" width="5" height="16" fill="#000"/>
<rect x="1380" y="184" width="3" height="14" fill="#fff"/>
<rect x="1389" y="183" width="1" height="5" fill="#000"/>
<rect x="1387" y="184" width="5" height="3" fill="#000"/>
<rect x="1388" y="185" width="3" height="1" fill="#fff"/>
<rect x="1397" y="156" width="1" height="34" fill="#000"/>
<rect x="1395" y="157" width="5" height="28" fill="#000"/>
<rect x="1396" y="158" width="3" height="26" fill="#fff"/>
<rect x="1405" y="155" width="1" height="39" fill="#000"/>
<rect x="1403" y="157" width="5" height="28" fill="#000"/>
<rect x="1413" y="184" width="1" height="35" fill="#000"/>
<rect x="1411" y="184" width="5" height="31" fill="#000"/>
<rect x="1258" y="200" width="216" height="8" fill="#00ff00"/>
<rect x="-2.5" y="188.5" width="4" height="4" fill="#fff" stroke="#ff4500" stroke-width="1"/>
<rect x="1679.5" y="188.5" width="4" height="4" fill="#fff" stroke="#ff4500" stroke-width="1"/>
<rect x="-2.5" y="227.5" width="4" height="4" fill="#fff" stroke="#0000ff" stroke-width="1"/>
<rect x="1679.5" y="227.5" width="4" height="4" fill="#fff" stroke="#0000ff" stroke-width="1"/>
<rect x="-2.5" y="245.5" width="4" height="4" fill="#fff" stroke="#0000ff" stroke-width="1"/>
<rect x="1679.5" y="245.5" width="4" height="4" fill="#fff" stroke="#0000ff" stroke-width="1"/>
<rect x="1062.5" y="40.5" width="61" height="18" fill="#fff" stroke="#ff0000" stroke-width="1"/>
<text x="1064.4" y="56.1" font-family="Liberation Sans, sans-serif" font-size="17" fill="#ff0000" textLength="57.6" lengthAdjust="spacingAndGlyphs">1.42380</text>
<rect x="1124" y="49" width="10" height="1" fill="#ff0000"/>
<rect x="926.5" y="261.5" width="61" height="18" fill="#fff" stroke="#ff0000" stroke-width="1"/>
<text x="928.4" y="277.1" font-family="Liberation Sans, sans-serif" font-size="17" fill="#ff0000" textLength="57.6" lengthAdjust="spacingAndGlyphs">1.35658</text>
<rect x="988" y="270" width="10" height="1" fill="#ff0000"/>
<rect x="1326.5" y="148.5" width="61" height="18" fill="#fff" stroke="#ff0000" stroke-width="1"/>
<text x="1328.4" y="164.1" font-family="Liberation Sans, sans-serif" font-size="17" fill="#ff0000" textLength="57.6" lengthAdjust="spacingAndGlyphs">1.39095</text>
<rect x="1388" y="156" width="3" height="3" fill="#ff0000"/>
<rect x="1389" y="157" width="1" height="1" fill="#fff"/>
<rect x="1391" y="157" width="5" height="1" fill="#ff0000"/>
<rect x="1262.5" y="228.5" width="61" height="18" fill="#fff" stroke="#ff0000" stroke-width="1"/>
<text x="1264.4" y="244.1" font-family="Liberation Sans, sans-serif" font-size="17" fill="#ff0000" textLength="57.6" lengthAdjust="spacingAndGlyphs">1.36661</text>
<rect x="1324" y="237" width="4" height="1" fill="#ff0000"/>
<rect x="1112.5" y="193.5" width="73" height="24" fill="#fff" stroke="#ff0000" stroke-width="1"/>
<text x="1114.2" y="213.9" font-family="Liberation Sans, sans-serif" font-size="23" fill="#ff0000" textLength="70" lengthAdjust="spacingAndGlyphs">1.37635</text>
<rect x="1102" y="205" width="7" height="1" fill="#ff0000"/>
<rect x="1109" y="203" width="3" height="4" fill="#ff0000"/>
<rect x="1110" y="204" width="1" height="2" fill="#fff"/>
<rect x="5" y="671" width="1" height="5" fill="#c0c0c0"/>
<rect x="13" y="671" width="1" height="24" fill="#c0c0c0"/>
<rect x="21" y="671" width="1" height="38" fill="#c0c0c0"/>
<rect x="29" y="671" width="1" height="46" fill="#c0c0c0"/>
<rect x="37" y="671" width="1" height="49" fill="#c0c0c0"/>
<rect x="45" y="671" width="1" height="46" fill="#c0c0c0"/>
<rect x="53" y="671" width="1" height="43" fill="#c0c0c0"/>
<rect x="61" y="671" width="1" height="41" fill="#c0c0c0"/>
<rect x="69" y="671" width="1" height="42" fill="#c0c0c0"/>
<rect x="77" y="671" width="1" height="48" fill="#c0c0c0"/>
<rect x="85" y="671" width="1" height="56" fill="#c0c0c0"/>
<rect x="93" y="671" width="1" height="63" fill="#c0c0c0"/>
<rect x="101" y="671" width="1" height="66" fill="#c0c0c0"/>
<rect x="109" y="671" width="1" height="69" fill="#c0c0c0"/>
<rect x="117" y="671" width="1" height="68" fill="#c0c0c0"/>
<rect x="125" y="671" width="1" height="61" fill="#c0c0c0"/>
<rect x="133" y="671" width="1" height="53" fill="#c0c0c0"/>
<rect x="141" y="671" width="1" height="46" fill="#c0c0c0"/>
<rect x="149" y="671" width="1" height="41" fill="#c0c0c0"/>
<rect x="157" y="671" width="1" height="33" fill="#c0c0c0"/>
<rect x="165" y="671" width="1" height="26" fill="#c0c0c0"/>
<rect x="173" y="671" width="1" height="18" fill="#c0c0c0"/>
<rect x="181" y="671" width="1" height="18" fill="#c0c0c0"/>
<rect x="189" y="671" width="1" height="15" fill="#c0c0c0"/>
<rect x="197" y="671" width="1" height="11" fill="#c0c0c0"/>
<rect x="205" y="671" width="1" height="3" fill="#c0c0c0"/>
<rect x="213" y="668" width="1" height="3" fill="#c0c0c0"/>
<rect x="221" y="661" width="1" height="10" fill="#c0c0c0"/>
<rect x="229" y="664" width="1" height="7" fill="#c0c0c0"/>
<rect x="237" y="661" width="1" height="10" fill="#c0c0c0"/>
<rect x="245" y="665" width="1" height="6" fill="#c0c0c0"/>
<rect x="253" y="667" width="1" height="4" fill="#c0c0c0"/>
<rect x="261" y="669" width="1" height="2" fill="#c0c0c0"/>
<rect x="269" y="669" width="1" height="2" fill="#c0c0c0"/>
<rect x="277" y="670" width="1" height="1" fill="#c0c0c0"/>
<rect x="285" y="658" width="1" height="13" fill="#c0c0c0"/>
<rect x="293" y="654" width="1" height="17" fill="#c0c0c0"/>
<rect x="301" y="652" width="1" height="19" fill="#c0c0c0"/>
<rect x="309" y="651" width="1" height="20" fill="#c0c0c0"/>
<rect x="317" y="652" width="1" height="19" fill="#c0c0c0"/>
<rect x="325" y="652" width="1" height="19" fill="#c0c0c0"/>
<rect x="333" y="656" width="1" height="15" fill="#c0c0c0"/>
<rect x="341" y="661" width="1" height="10" fill="#c0c0c0"/>
<rect x="349" y="664" width="1" height="7" fill="#c0c0c0"/>
<rect x="357" y="668" width="1" height="3" fill="#c0c0c0"/>
<rect x="373" y="663" width="1" height="8" fill="#c0c0c0"/>
<rect x="381" y="665" width="1" height="6" fill="#c0c0c0"/>
<rect x="389" y="657" width="1" height="14" fill="#c0c0c0"/>
<rect x="397" y="650" width="1" height="21" fill="#c0c0c0"/>
<rect x="405" y="643" width="1" height="28" fill="#c0c0c0"/>
<rect x="413" y="638" width="1" height="33" fill="#c0c0c0"/>
<rect x="421" y="630" width="1" height="41" fill="#c0c0c0"/>
<rect x="429" y="626" width="1" height="45" fill="#c0c0c0"/>
<rect x="437" y="629" width="1" height="42" fill="#c0c0c0"/>
<rect x="445" y="629" width="1" height="42" fill="#c0c0c0"/>
<rect x="453" y="627" width="1" height="44" fill="#c0c0c0"/>
<rect x="461" y="626" width="1" height="45" fill="#c0c0c0"/>
<rect x="469" y="623" width="1" height="48" fill="#c0c0c0"/>
<rect x="477" y="622" width="1" height="49" fill="#c0c0c0"/>
<rect x="485" y="622" width="1" height="49" fill="#c0c0c0"/>
<rect x="493" y="620" width="1" height="51" fill="#c0c0c0"/>
<rect x="501" y="619" width="1" height="52" fill="#c0c0c0"/>
<rect x="509" y="617" width="1" height="54" fill="#c0c0c0"/>
<rect x="517" y="613" width="1" height="58" fill="#c0c0c0"/>
<rect x="525" y="610" width="1" height="61" fill="#c0c0c0"/>
<rect x="533" y="610" width="1" height="61" fill="#c0c0c0"/>
<rect x="541" y="614" width="1" height="57" fill="#c0c0c0"/>
<rect x="549" y="616" width="1" height="55" fill="#c0c0c0"/>
<rect x="557" y="618" width="1" height="53" fill="#c0c0c0"/>
<rect x="565" y="615" width="1" height="56" fill="#c0c0c0"/>
<rect x="573" y="616" width="1" height="55" fill="#c0c0c0"/>
<rect x="581" y="614" width="1" height="57" fill="#c0c0c0"/>
<rect x="589" y="613" width="1" height="58" fill="#c0c0c0"/>
<rect x="597" y="613" width="1" height="58" fill="#c0c0c0"/>
<rect x="605" y="618" width="1" height="53" fill="#c0c0c0"/>
<rect x="613" y="622" width="1" height="49" fill="#c0c0c0"/>
<rect x="621" y="626" width="1" height="45" fill="#c0c0c0"/>
<rect x="629" y="633" width="1" height="38" fill="#c0c0c0"/>
<rect x="637" y="644" width="1" height="27" fill="#c0c0c0"/>
<rect x="645" y="647" width="1" height="24" fill="#c0c0c0"/>
<rect x="653" y="650" width="1" height="21" fill="#c0c0c0"/>
<rect x="661" y="644" width="1" height="27" fill="#c0c0c0"/>
<rect x="669" y="638" width="1" height="33" fill="#c0c0c0"/>
<rect x="677" y="629" width="1" height="42" fill="#c0c0c0"/>
<rect x="685" y="626" width="1" height="45" fill="#c0c0c0"/>
<rect x="693" y="630" width="1" height="41" fill="#c0c0c0"/>
<rect x="701" y="632" width="1" height="39" fill="#c0c0c0"/>
<rect x="709" y="637" width="1" height="34" fill="#c0c0c0"/>
<rect x="717" y="633" width="1" height="38" fill="#c0c0c0"/>
<rect x="725" y="629" width="1" height="42" fill="#c0c0c0"/>
<rect x="733" y="625" width="1" height="46" fill="#c0c0c0"/>
<rect x="741" y="629" width="1" height="42" fill="#c0c0c0"/>
<rect x="749" y="630" width="1" height="41" fill="#c0c0c0"/>
<rect x="757" y="624" width="1" height="47" fill="#c0c0c0"/>
<rect x="765" y="618" width="1" height="53" fill="#c0c0c0"/>
<rect x="773" y="613" width="1" height="58" fill="#c0c0c0"/>
<rect x="781" y="616" width="1" height="55" fill="#c0c0c0"/>
<rect x="789" y="615" width="1" height="56" fill="#c0c0c0"/>
<rect x="797" y="616" width="1" height="55" fill="#c0c0c0"/>
<rect x="805" y="620" width="1" height="51" fill="#c0c0c0"/>
<rect x="813" y="624" width="1" height="47" fill="#c0c0c0"/>
<rect x="821" y="631" width="1" height="40" fill="#c0c0c0"/>
<rect x="829" y="636" width="1" height="35" fill="#c0c0c0"/>
<rect x="837" y="632" width="1" height="39" fill="#c0c0c0"/>
<rect x="845" y="631" width="1" height="40" fill="#c0c0c0"/>
<rect x="853" y="628" width="1" height="43" fill="#c0c0c0"/>
<rect x="861" y="633" width="1" height="38" fill="#c0c0c0"/>
<rect x="869" y="637" width="1" height="34" fill="#c0c0c0"/>
<rect x="877" y="640" width="1" height="31" fill="#c0c0c0"/>
<rect x="885" y="639" width="1" height="32" fill="#c0c0c0"/>
<rect x="893" y="638" width="1" height="33" fill="#c0c0c0"/>
<rect x="901" y="634" width="1" height="37" fill="#c0c0c0"/>
<rect x="909" y="633" width="1" height="38" fill="#c0c0c0"/>
<rect x="917" y="633" width="1" height="38" fill="#c0c0c0"/>
<rect x="925" y="636" width="1" height="35" fill="#c0c0c0"/>
<rect x="933" y="631" width="1" height="40" fill="#c0c0c0"/>
<rect x="941" y="634" width="1" height="37" fill="#c0c0c0"/>
<rect x="949" y="633" width="1" height="38" fill="#c0c0c0"/>
<rect x="957" y="633" width="1" height="38" fill="#c0c0c0"/>
<rect x="965" y="636" width="1" height="35" fill="#c0c0c0"/>
<rect x="973" y="639" width="1" height="32" fill="#c0c0c0"/>
<rect x="981" y="643" width="1" height="28" fill="#c0c0c0"/>
<rect x="989" y="646" width="1" height="25" fill="#c0c0c0"/>
<rect x="997" y="648" width="1" height="23" fill="#c0c0c0"/>
<rect x="1005" y="647" width="1" height="24" fill="#c0c0c0"/>
<rect x="1013" y="645" width="1" height="26" fill="#c0c0c0"/>
<rect x="1021" y="643" width="1" height="28" fill="#c0c0c0"/>
<rect x="1029" y="639" width="1" height="32" fill="#c0c0c0"/>
<rect x="1037" y="635" width="1" height="36" fill="#c0c0c0"/>
<rect x="1045" y="633" width="1" height="38" fill="#c0c0c0"/>
<rect x="1053" y="630" width="1" height="41" fill="#c0c0c0"/>
<rect x="1061" y="627" width="1" height="44" fill="#c0c0c0"/>
<rect x="1069" y="622" width="1" height="49" fill="#c0c0c0"/>
<rect x="1077" y="621" width="1" height="50" fill="#c0c0c0"/>
<rect x="1085" y="621" width="1" height="50" fill="#c0c0c0"/>
<rect x="1093" y="616" width="1" height="55" fill="#c0c0c0"/>
<rect x="1101" y="610" width="1" height="61" fill="#c0c0c0"/>
<rect x="1109" y="606" width="1" height="65" fill="#c0c0c0"/>
<rect x="1117" y="600" width="1" height="71" fill="#c0c0c0"/>
<rect x="1125" y="594" width="1" height="77" fill="#c0c0c0"/>
<rect x="1133" y="588" width="1" height="83" fill="#c0c0c0"/>
<rect x="1141" y="593" width="1" height="78" fill="#c0c0c0"/>
<rect x="1149" y="601" width="1" height="70" fill="#c0c0c0"/>
<rect x="1157" y="607" width="1" height="64" fill="#c0c0c0"/>
<rect x="1165" y="614" width="1" height="57" fill="#c0c0c0"/>
<rect x="1173" y="620" width="1" height="51" fill="#c0c0c0"/>
<rect x="1181" y="626" width="1" height="45" fill="#c0c0c0"/>
<rect x="1189" y="633" width="1" height="38" fill="#c0c0c0"/>
<rect x="1197" y="643" width="1" height="28" fill="#c0c0c0"/>
<rect x="1205" y="650" width="1" height="21" fill="#c0c0c0"/>
<rect x="1213" y="657" width="1" height="14" fill="#c0c0c0"/>
<rect x="1221" y="659" width="1" height="12" fill="#c0c0c0"/>
<rect x="1229" y="659" width="1" height="12" fill="#c0c0c0"/>
<rect x="1237" y="655" width="1" height="16" fill="#c0c0c0"/>
<rect x="1245" y="656" width="1" height="15" fill="#c0c0c0"/>
<rect x="1253" y="656" width="1" height="15" fill="#c0c0c0"/>
<rect x="1261" y="658" width="1" height="13" fill="#c0c0c0"/>
<rect x="1269" y="661" width="1" height="10" fill="#c0c0c0"/>
<rect x="1277" y="658" width="1" height="13" fill="#c0c0c0"/>
<rect x="1285" y="659" width="1" height="12" fill="#c0c0c0"/>
<rect x="1293" y="663" width="1" height="8" fill="#c0c0c0"/>
<rect x="1301" y="669" width="1" height="2" fill="#c0c0c0"/>
<rect x="1317" y="671" width="1" height="9" fill="#c0c0c0"/>
<rect x="1325" y="671" width="1" height="20" fill="#c0c0c0"/>
<rect x="1333" y="671" width="1" height="24" fill="#c0c0c0"/>
<rect x="1341" y="671" width="1" height="26" fill="#c0c0c0"/>
<rect x="1349" y="671" width="1" height="25" fill="#c0c0c0"/>
<rect x="1357" y="671" width="1" height="23" fill="#c0c0c0"/>
<rect x="1365" y="671" width="1" height="26" fill="#c0c0c0"/>
<rect x="1373" y="671" width="1" height="26" fill="#c0c0c0"/>
<rect x="1381" y="671" width="1" height="21" fill="#c0c0c0"/>
<rect x="1389" y="671" width="1" height="16" fill="#c0c0c0"/>
<rect x="1397" y="671" width="1" height="11" fill="#c0c0c0"/>
<rect x="1405" y="671" width="1" height="10" fill="#c0c0c0"/>
<rect x="1413" y="671" width="1" height="10" fill="#c0c0c0"/>
<polyline points="2.2,616.2 11.1,628.7 20.8,643.9 30.5,660.6 37.4,671.7 45.8,684.2 54.1,695.8 62.4,704.1 70.7,709.9 79.0,714.1 87.4,718.0 95.7,720.8 104.0,722.4 112.3,724.9 120.6,727.1 127.6,728.5 135.9,730.2 144.2,730.2 152.5,728.0 160.8,725.8 169.2,720.8 177.5,715.5 185.8,709.1 194.1,702.2 202.4,697.5 210.8,690.3 219.1,684.7 227.4,680.0 235.7,675.3 244.0,673.1 252.4,669.7 260.7,668.1 269.0,666.1 277.3,665.3 285.6,664.2 294.0,663.4 302.3,662.0 310.6,661.1 318.9,658.6 327.2,657.0 335.6,656.4 343.9,655.0 352.2,654.5 360.5,656.4 368.8,657.8 377.1,659.7 385.5,660.6 393.8,661.4 402.1,659.2 413.2,657.8 421.5,653.6 429.8,648.7 438.2,643.9 446.5,639.8 454.8,635.6 463.1,632.3 471.4,629.2 480.0,626.5 491.1,624.5 502.2,623.1 510.5,621.8 518.8,619.5 528.5,617.6 538.2,616.2 549.3,615.4 557.6,614.3 568.7,613.4 579.8,613.2 590.9,613.2 602.0,613.4 613.1,614.8 622.8,616.5 631.1,619.0 640.8,622.6 649.2,626.5 657.5,630.6 665.8,634.2 674.1,635.6 685.2,636.2 696.3,637.6 707.4,636.5 715.7,634.2 724.0,632.8 732.4,630.4 740.7,629.2 751.8,629.2 760.1,628.7 768.4,626.5 776.7,624.5 785.0,622.6 793.4,620.4 801.7,619.5 812.8,619.5 823.9,619.5 835.0,621.2 843.3,623.7 851.6,625.1 862.7,626.7 871.0,629.2 879.3,632.0 890.4,633.7 901.5,634.2 912.6,634.2 923.7,635.1 934.8,634.2 945.9,633.7 960.0,633.4 973.9,633.4 985.0,635.6 996.1,637.6 1007.1,639.2 1018.2,641.7 1029.3,642.6 1040.4,642.6 1051.5,640.3 1061.2,639.2 1070.9,634.2 1082.0,630.6 1093.1,625.9 1104.2,623.1 1115.3,617.6 1126.4,612.1 1137.5,606.0 1148.6,602.3 1159.7,601.0 1170.8,601.8 1181.9,604.3 1192.9,609.8 1204.0,617.6 1215.1,628.1 1226.2,636.5 1234.5,642.6 1245.6,648.1 1256.7,651.7 1265.0,655.6 1278.9,657.3 1290.0,657.8 1301.1,659.2 1312.2,662.0 1320.5,664.7 1331.6,670.3 1342.7,675.8 1353.8,682.8 1364.9,687.8 1373.2,691.1 1381.5,693.9 1389.8,695.2 1398.2,693.9 1406.5,691.9 1414.8,690.3" fill="none" stroke="#ff0000" stroke-width="1" stroke-dasharray="3,3"/>
<line x1="0" y1="786.5" x2="1684" y2="786.5" stroke="#c0c0c0" stroke-width="1" stroke-dasharray="3,3"/>
<line x1="0" y1="837.5" x2="1684" y2="837.5" stroke="#c0c0c0" stroke-width="1" stroke-dasharray="3,3"/>
<line x1="0" y1="898.5" x2="1684" y2="898.5" stroke="#c0c0c0" stroke-width="1" stroke-dasharray="3,3"/>
<polyline points="0.0,859.5 5.5,867.3 13.5,868.4 21.5,866.5 29.5,861.8 37.5,856.8 45.5,846.5 53.5,845.1 61.5,850.4 69.5,849.3 77.5,859.5 85.5,865.1 93.5,867.3 101.5,861.5 109.5,863.1 117.5,858.2 125.5,843.5 133.5,844.3 141.5,838.2 149.5,841.0 157.5,835.4 165.5,836.5 173.5,828.5 181.5,842.1 189.5,838.2 197.5,835.1 205.5,824.3 213.5,824.9 221.5,821.3 229.5,839.3 237.5,830.4 245.5,842.3 253.5,839.3 261.5,840.4 269.5,837.9 277.5,836.2 285.5,818.5 293.5,824.9 301.5,829.9 309.5,828.5 317.5,832.6 325.5,831.3 333.5,836.8 341.5,844.3 349.5,840.4 357.5,844.3 365.5,845.1 373.5,821.5 381.5,839.3 389.5,824.0 397.5,822.1 405.5,820.4 413.5,822.1 421.5,814.3 429.5,818.8 437.5,831.3 445.5,826.3 453.5,822.7 461.5,822.1 469.5,819.3 477.5,820.2 485.5,820.2 493.5,817.1 501.5,815.2 509.5,812.4 517.5,809.1 525.5,807.4 533.5,813.8 541.5,822.1 549.5,819.3 557.5,817.9 565.5,808.2 573.5,818.8 581.5,810.2 589.5,811.0 597.5,817.4 605.5,827.1 613.5,826.0 621.5,826.3 629.5,836.8 637.5,848.4 645.5,835.1 653.5,833.2 661.5,818.8 669.5,813.0 677.5,807.1 685.5,817.1 693.5,832.4 701.5,827.6 709.5,832.6 717.5,822.7 725.5,819.3 733.5,817.1 741.5,831.3 749.5,827.6 757.5,816.6 765.5,813.8 773.5,812.4 781.5,826.3 789.5,821.5 797.5,822.7 805.5,829.0 813.5,830.4 821.5,835.1 829.5,835.1 837.5,819.3 845.5,822.7 853.5,819.3 861.5,833.2 869.5,834.0 877.5,832.4 885.5,824.9 893.5,822.9 901.5,816.6 909.5,824.3 917.5,823.2 925.5,825.4 933.5,817.4 941.5,829.0 949.5,822.1 957.5,826.3 965.5,827.1 973.5,830.4 981.5,833.2 989.5,835.1 997.5,831.0 1005.5,822.9 1013.5,821.3 1021.5,820.2 1029.5,810.5 1037.5,809.1 1045.5,813.2 1053.5,808.2 1061.5,806.0 1069.5,801.3 1077.5,808.2 1085.5,813.2 1093.5,800.7 1101.5,797.1 1109.5,796.3 1117.5,792.2 1125.5,788.0 1133.5,786.1 1141.5,817.9 1149.5,828.2 1157.5,824.0 1165.5,831.3 1173.5,828.2 1181.5,832.6 1189.5,838.2 1197.5,845.1 1205.5,844.3 1213.5,847.9 1221.5,837.4 1229.5,830.4 1237.5,823.5 1245.5,833.2 1253.5,832.4 1261.5,837.1 1269.5,837.1 1277.5,826.0 1285.5,835.1 1293.5,842.1 1301.5,847.9 1309.5,843.5 1317.5,859.0 1325.5,862.9 1333.5,854.0 1341.5,848.4 1349.5,847.1 1357.5,848.4 1365.5,852.6 1373.5,845.7 1381.5,838.7 1389.5,838.2 1397.5,826.3 1405.5,838.7 1413.5,852.1" fill="none" stroke="#1e90ff" stroke-width="1"/>
<polyline points="1284.0,134.0 1334.5,238.5" fill="none" stroke="#ff0000" stroke-width="3.2" stroke-linejoin="miter"/>
<polygon points="1334.9,239.4 1324.8,231.0 1334.7,226.2" fill="#ff0000"/>
<polyline points="1334.5,239.0 1405.0,156.5" fill="none" stroke="#ff0000" stroke-width="3.2" stroke-linejoin="miter"/>
<polygon points="1405.6,155.7 1402.0,168.4 1393.7,161.3" fill="#ff0000"/>
<polyline points="1405.7,156.0 1429.3,238.5" fill="none" stroke="#ff0000" stroke-width="3.2" stroke-linejoin="miter"/>
<polygon points="1429.6,239.5 1421.0,229.4 1431.6,226.4" fill="#ff0000"/>
<polyline points="1337.5,698.3 1428.7,684.5" fill="none" stroke="#ff0000" stroke-width="2.5" stroke-linejoin="miter"/>
<polygon points="1429.7,684.4 1419.5,690.7 1418.1,681.3" fill="#ff0000"/>
<polyline points="1320.5,862.7 1405.9,828.2" fill="none" stroke="#ff0000" stroke-width="2.6" stroke-linejoin="miter"/>
<polygon points="1406.8,827.8 1398.5,836.6 1394.8,827.3" fill="#ff0000"/>
<polyline points="1404.0,828.5 1413.4,862.4" fill="none" stroke="#ff0000" stroke-width="2.8" stroke-linejoin="miter"/>
<polygon points="1413.7,863.4 1405.9,854.1 1415.5,851.4" fill="#ff0000"/>
<rect x="1685" y="45" width="2" height="1" fill="#000"/>
<rect x="1685" y="78" width="2" height="1" fill="#000"/>
<rect x="1685" y="111" width="2" height="1" fill="#000"/>
<rect x="1685" y="144" width="2" height="1" fill="#000"/>
<rect x="1685" y="177" width="2" height="1" fill="#000"/>
<rect x="1685" y="276" width="2" height="1" fill="#000"/>
<rect x="1685" y="309" width="2" height="1" fill="#000"/>
<rect x="1685" y="342" width="2" height="1" fill="#000"/>
<rect x="1685" y="375" width="2" height="1" fill="#000"/>
<rect x="1685" y="408" width="2" height="1" fill="#000"/>
<rect x="1685" y="441" width="2" height="1" fill="#000"/>
<rect x="1685" y="474" width="2" height="1" fill="#000"/>
<rect x="1685" y="507" width="2" height="1" fill="#000"/>
<rect x="1685" y="540" width="2" height="1" fill="#000"/>
<rect x="1685" y="573" width="2" height="1" fill="#000"/>
<rect x="1686" y="158" width="41" height="11" fill="#ff0000"/>
<rect x="1686" y="184" width="41" height="11" fill="#ff4500"/>
<rect x="1686" y="198" width="41" height="11" fill="#32cd32"/>
<rect x="1686" y="209" width="41" height="11" fill="#000000"/>
<rect x="1686" y="223" width="41" height="11" fill="#0000ff"/>
<rect x="1686" y="241" width="41" height="11" fill="#0000ff"/>
<rect x="1685" y="671" width="1" height="1" fill="#000"/>
<rect x="1685" y="580" width="1" height="1" fill="#000"/>
<rect x="1685" y="747" width="1" height="1" fill="#000"/>
<rect x="1685" y="752" width="1" height="1" fill="#000"/>
<rect x="1685" y="786" width="2" height="1" fill="#000"/>
<rect x="1685" y="837" width="2" height="1" fill="#000"/>
<rect x="1685" y="898" width="2" height="1" fill="#000"/>
<rect x="61" y="925" width="1" height="3" fill="#000"/>
<rect x="125" y="925" width="1" height="3" fill="#000"/>
<rect x="189" y="925" width="1" height="3" fill="#000"/>
<rect x="253" y="925" width="1" height="3" fill="#000"/>
<rect x="317" y="925" width="1" height="3" fill="#000"/>
<rect x="381" y="925" width="1" height="3" fill="#000"/>
<rect x="445" y="925" width="1" height="3" fill="#000"/>
<rect x="509" y="925" width="1" height="3" fill="#000"/>
<rect x="573" y="925" width="1" height="3" fill="#000"/>
<rect x="637" y="925" width="1" height="3" fill="#000"/>
<rect x="701" y="925" width="1" height="3" fill="#000"/>
<rect x="765" y="925" width="1" height="3" fill="#000"/>
<rect x="829" y="925" width="1" height="3" fill="#000"/>
<rect x="893" y="925" width="1" height="3" fill="#000"/>
<rect x="957" y="925" width="1" height="3" fill="#000"/>
<rect x="1021" y="925" width="1" height="3" fill="#000"/>
<rect x="1085" y="925" width="1" height="3" fill="#000"/>
<rect x="1149" y="925" width="1" height="3" fill="#000"/>
<rect x="1213" y="925" width="1" height="3" fill="#000"/>
<rect x="1277" y="925" width="1" height="3" fill="#000"/>
<rect x="1341" y="925" width="1" height="3" fill="#000"/>
<rect x="1405" y="925" width="1" height="3" fill="#000"/>
<polygon points="0,34 3.5,30 7,34" fill="#000"/>
<polygon points="1424.5,24 1434.5,24 1429.5,29" fill="#c0c0c0"/>
<g shape-rendering="geometricPrecision">
<text x="1486.6" y="183.8" font-family="'Liberation Sans', 'Noto Sans CJK SC', sans-serif" font-size="20" fill="#00ff00" textLength="107.6" lengthAdjust="spacing">多空转折点</text>
</g>
<polygon points="62,52 67,52 64.5,55" fill="#4a5ab0"/><polygon points="151,55 156,55 153.5,52" fill="#4a5ab0"/>
</svg>
<svg width="1731" height="24" viewBox="0 0 1731 24">
<defs><linearGradient id="gold" x1="0" y1="0" x2="1" y2="1"><stop offset="0" stop-color="#f6d15a"/><stop offset="1" stop-color="#a87408"/></linearGradient><radialGradient id="badge" cx="0.45" cy="0.3" r="0.8"><stop offset="0" stop-color="#f0583a"/><stop offset="1" stop-color="#d01808"/></radialGradient></defs>
<rect x="0" y="0" width="1731" height="19" fill="#f0f0f0"/>
<rect x="0" y="18" width="1731" height="1" fill="#e4e4e4" shape-rendering="crispEdges"/>
<rect x="0" y="19" width="1731" height="1" fill="#b0b0b0" shape-rendering="crispEdges"/>
<rect x="0" y="20" width="1731" height="1" fill="#707070" shape-rendering="crispEdges"/>
<rect x="-4" y="-4" width="11.6" height="17" fill="#fff" stroke="#3c7fc9" stroke-width="1.3"/><path d="M0,1.5H6M0,4.5H6M0,7.5H6" stroke="#b8d2f2" stroke-width="1"/>
<rect x="20.8" y="-3" width="11" height="15.3" fill="#fbfbfb" stroke="#b8b0a0" stroke-width="0.9"/>
<path d="M23,1 V6 M23,3 H25 M28.5,0 V5" stroke="#8a8a8a" stroke-width="0.9" fill="none"/>
<line x1="32.3" y1="11.6" x2="36.6" y2="15.6" stroke="#c8961e" stroke-width="2.6" stroke-linecap="round"/>
<circle cx="28.4" cy="7.4" r="5" fill="#d6e8fa" fill-opacity="0.85" stroke="#78a8e0" stroke-width="1.3"/>
<rect x="45" y="0" width="1" height="16.5" fill="#a0a0a0" shape-rendering="crispEdges"/><rect x="46" y="0" width="1" height="16.5" fill="#fcfcfc" shape-rendering="crispEdges"/>
<path d="M55,-3 H63.5 L66.5,0.5 V12.3 H55 Z" fill="#fdfdfd" stroke="#8c8c8c" stroke-width="0.9"/><path d="M57,1.5H61M57,4.5H62.5M57,7.5H60" stroke="#9a9a9a" stroke-width="1"/>
<path d="M63.10000000000001,5.300000000000001 h3.6 v3.8 h3.8 v3.6 h-3.8 v3.8 h-3.6 v-3.8 h-3.8 v-3.6 h3.8 z" fill="#16c416" stroke="#0b8a0b" stroke-width="0.7"/>
<text x="73.6" y="9.9" font-family="'Liberation Sans', 'Noto Sans CJK SC', sans-serif" font-size="12" fill="#000" textLength="36" lengthAdjust="spacing">新订单</text>
<polygon points="121.9,7.2 129.3,-2.5 138.2,5.4 131.2,15" fill="url(#gold)" stroke="#9a6a08" stroke-width="0.6"/><path d="M123.5,9 L130.8,15.6 L137.5,7" fill="none" stroke="#8a5c06" stroke-width="1"/>
<rect x="152.6" y="-2" width="9.8" height="10" fill="#3a96ea" stroke="#2a78d0" stroke-width="0.8"/><rect x="154.6" y="1.5" width="5.5" height="3.5" fill="#bfe0fb"/>
<path d="M152.5,14.6 a2.6,2.6 0 0 1 0.4,-5.1 a3.6,3.6 0 0 1 6.6,-1 a3,3 0 0 1 4.6,2 a2.2,2.2 0 0 1 -0.6,4.1 z" fill="#e6edf7" stroke="#7f98c4" stroke-width="0.9"/>
<path d="M184.14,9.16 A3.2,3.2 0 0 1 184.46,3.65" fill="none" stroke="#6f8fd8" stroke-width="1.1"/>
<path d="M187.34,3.65 A3.2,3.2 0 0 1 187.34,9.35" fill="none" stroke="#7fb47f" stroke-width="1.1"/>
<path d="M182.82,11.15 A5.6,5.6 0 0 1 183.38,1.52" fill="none" stroke="#8aa4dc" stroke-width="1.1"/>
<path d="M188.42,1.52 A5.6,5.6 0 0 1 188.42,11.48" fill="none" stroke="#7fb47f" stroke-width="1.1"/>
<path d="M181.61,12.97 A7.8,7.8 0 0 1 182.39,-0.44" fill="none" stroke="#a9bce4" stroke-width="1.1"/>
<path d="M189.41,-0.44 A7.8,7.8 0 0 1 189.41,13.44" fill="none" stroke="#7fb47f" stroke-width="1.1"/>
<path d="M186,6.5 V14.4" stroke="#1fa01f" stroke-width="1.6" fill="none"/><path d="M186.2,14.3 A7.8,7.8 0 0 0 191.5,12" stroke="#3aa83a" stroke-width="1.3" fill="none"/><circle cx="185.9" cy="6.5" r="1.6" fill="#2452d4"/>
<polygon points="206.3,5 220.3,5 213.8,14.6" fill="#f2d545" stroke="#c8a018" stroke-width="0.7"/>
<ellipse cx="213" cy="3.6" rx="8" ry="2.3" fill="#5aa8e2"/><path d="M209.5,3 Q212.8,-6 216.5,3 Z" fill="#4a98d8"/>
<circle cx="217.4" cy="10.6" r="4.2" fill="#df2210"/><rect x="216" y="9.2" width="2.8" height="2.8" fill="#fff"/>
<text x="226.3" y="9.9" font-family="'Liberation Sans', 'Noto Sans CJK SC', sans-serif" font-size="12" fill="#000" textLength="47.1" lengthAdjust="spacing">自动交易</text>
<rect x="281" y="0" width="1" height="16.5" fill="#a0a0a0" shape-rendering="crispEdges"/><rect x="282" y="0" width="1" height="16.5" fill="#fcfcfc" shape-rendering="crispEdges"/>
<rect x="284.5" y="1" width="3" height="1" fill="#a8a8a8" shape-rendering="crispEdges"/><rect x="284.5" y="3" width="3" height="1" fill="#a8a8a8" shape-rendering="crispEdges"/><rect x="284.5" y="5" width="3" height="1" fill="#a8a8a8" shape-rendering="crispEdges"/><rect x="284.5" y="7" width="3" height="1" fill="#a8a8a8" shape-rendering="crispEdges"/><rect x="284.5" y="9" width="3" height="1" fill="#a8a8a8" shape-rendering="crispEdges"/><rect x="284.5" y="11" width="3" height="1" fill="#a8a8a8" shape-rendering="crispEdges"/><rect x="284.5" y="13" width="3" height="1" fill="#a8a8a8" shape-rendering="crispEdges"/><rect x="284.5" y="15" width="3" height="1" fill="#a8a8a8" shape-rendering="crispEdges"/>
<path d="M299.4,1 V14.6 M297.3,12.8 H310.6" stroke="#555" stroke-width="1.2" fill="none"/><path d="M297.59999999999997,3 L299.4,0.6 L301.2,3 M308.40000000000003,11 L310.8,12.8 L308.40000000000003,14.6" stroke="#555" stroke-width="1" fill="none"/>
<path d="M305.6,2.6 V10.4 M303.4,9.6 H305.6 M305.6,3.4 H307.8" stroke="#1ea01e" stroke-width="1.4" fill="none"/>
<rect x="319" y="0" width="1" height="16.5" fill="#a0a0a0" shape-rendering="crispEdges"/><rect x="320" y="0" width="1" height="16.5" fill="#fcfcfc" shape-rendering="crispEdges"/>
<rect x="321" y="0" width="23" height="17" fill="#f9f9f9"/>
<path d="M327.4,1 V14.6 M325,12.8 H338.5" stroke="#555" stroke-width="1.2" fill="none"/><path d="M325.59999999999997,3 L327.4,0.6 L329.2,3 M336.3,11 L338.7,12.8 L336.3,14.6" stroke="#555" stroke-width="1" fill="none"/>
<line x1="333.55" y1="-1" x2="333.55" y2="10.9" stroke="#0d7a0d" stroke-width="1.1"/><rect x="331.4" y="1" width="4.3" height="7.8" fill="#22cc22" stroke="#0d7a0d" stroke-width="0.9"/>
<path d="M355.3,1 V14.6 M352.9,12.8 H366.8" stroke="#555" stroke-width="1.2" fill="none"/><path d="M353.5,3 L355.3,0.6 L357.1,3 M364.6,11 L367.0,12.8 L364.6,14.6" stroke="#555" stroke-width="1" fill="none"/>
<path d="M354.6,9.6 C357.5,5.5 359.5,3.2 361.3,4 C363.2,4.8 364.8,7 366.4,8.6" stroke="#2a962a" stroke-width="1.3" fill="none"/>
<rect x="376" y="0" width="1" height="16.5" fill="#a0a0a0" shape-rendering="crispEdges"/><rect x="377" y="0" width="1" height="16.5" fill="#fcfcfc" shape-rendering="crispEdges"/>
<line x1="394.7" y1="8.9" x2="399.9" y2="13.9" stroke="#d2a626" stroke-width="2.7" stroke-linecap="round"/>
<circle cx="390.9" cy="5" r="5.2" fill="#d2e8fb" stroke="#3c88da" stroke-width="1.4"/>
<path d="M388.09999999999997,5 h5.6 M390.9,2.2 v5.6" stroke="#3a7ccc" stroke-width="1.5"/>
<line x1="422.7" y1="8.6" x2="427.9" y2="13.600000000000001" stroke="#d2a626" stroke-width="2.7" stroke-linecap="round"/>
<circle cx="418.9" cy="4.7" r="5.2" fill="#d2e8fb" stroke="#3c88da" stroke-width="1.4"/>
<path d="M416.09999999999997,4.7 h5.6" stroke="#3a7ccc" stroke-width="1.5"/>
<rect x="440.8" y="-1" width="7.7" height="7.5" fill="#3ca42c"/><rect x="442.2" y="2" width="4.9" height="3" fill="#fff" fill-opacity="0.85"/>
<rect x="449.2" y="-1" width="7.7" height="7.5" fill="#2a5ad4"/><rect x="450.59999999999997" y="2" width="4.9" height="3" fill="#fff" fill-opacity="0.85"/>
<rect x="440.8" y="7.2" width="7.7" height="7.5" fill="#2a5ad4"/><rect x="442.2" y="10.2" width="4.9" height="3" fill="#fff" fill-opacity="0.85"/>
<rect x="449.2" y="7.2" width="7.7" height="7.5" fill="#3ca42c"/><rect x="450.59999999999997" y="10.2" width="4.9" height="3" fill="#fff" fill-opacity="0.85"/>
<rect x="466" y="0" width="1" height="16.5" fill="#a0a0a0" shape-rendering="crispEdges"/><rect x="467" y="0" width="1" height="16.5" fill="#fcfcfc" shape-rendering="crispEdges"/>
<rect x="471" y="0" width="1" height="16.5" fill="#a0a0a0" shape-rendering="crispEdges"/><rect x="472" y="0" width="1" height="16.5" fill="#fcfcfc" shape-rendering="crispEdges"/>
<rect x="473" y="0" width="23" height="17" fill="#f9f9f9"/>
<path d="M479.6,1 V14.6 M477,12.8 H490.6" stroke="#555" stroke-width="1.2" fill="none"/><path d="M477.8,3 L479.6,0.6 L481.40000000000003,3 M488.40000000000003,11 L490.8,12.8 L488.40000000000003,14.6" stroke="#555" stroke-width="1" fill="none"/>
<polygon points="484.4,3.4 484.4,9.8 488,6.6" fill="#9be09b" stroke="#1ea01e" stroke-width="1"/>
<rect x="499" y="0" width="1" height="16.5" fill="#a0a0a0" shape-rendering="crispEdges"/><rect x="500" y="0" width="1" height="16.5" fill="#fcfcfc" shape-rendering="crispEdges"/>
<rect x="501" y="0" width="23" height="17" fill="#f9f9f9"/>
<path d="M507.6,1 V14.6 M505,12.8 H518.7" stroke="#555" stroke-width="1.2" fill="none"/><path d="M505.8,3 L507.6,0.6 L509.40000000000003,3 M516.5,11 L518.9000000000001,12.8 L516.5,14.6" stroke="#555" stroke-width="1" fill="none"/>
<line x1="513.4" y1="1" x2="513.4" y2="11" stroke="#1f62c4" stroke-width="1.3"/><path d="M519.2,6.4 H515 M517,4.6 L514.8,6.4 L517,8.2" stroke="#d2440e" stroke-width="1.2" fill="none"/>
<rect x="528" y="0" width="1" height="16.5" fill="#a0a0a0" shape-rendering="crispEdges"/><rect x="529" y="0" width="1" height="16.5" fill="#fcfcfc" shape-rendering="crispEdges"/>
<path d="M538.4,-3 H546.8 L549.7,0.4 V12.4 H538.4 Z" fill="#fdfdfd" stroke="#8c8c8c" stroke-width="0.9"/><path d="M543.5,2 Q541.3,1.6 541.3,4 V10 M540,5.5 H543" stroke="#777" stroke-width="1" fill="none"/>
<path d="M546.2,5.2 h4 v3.7 h3.7 v4 h-3.7 v3.7 h-4 v-3.7 h-3.7 v-4 h3.7 z" fill="#16c416" stroke="#0b8a0b" stroke-width="0.7"/>
<polygon points="560,6 565,6 562.5,8.8" fill="#000"/>
<circle cx="584.1" cy="6.8" r="6.7" fill="#f4f9ff" stroke="#1c66d2" stroke-width="2.7"/><path d="M584.1,2.6 V7 H587" stroke="#444" stroke-width="1.1" fill="none"/>
<polygon points="599,6 604,6 601.5,8.8" fill="#000"/>
<rect x="615.4" y="-1" width="15.4" height="14.4" fill="#fff" stroke="#3a7ad2" stroke-width="1.4"/><rect x="615.4" y="-1" width="15.4" height="2.4" fill="#4a8ae0"/><line x1="615.4" y1="7.6" x2="630.8" y2="7.6" stroke="#3a7ad2" stroke-width="1"/>
<path d="M617,5.8 L620.5,4.6 L623,5.4 L626,3.8 L629.3,4.4" stroke="#c23a12" stroke-width="1.1" fill="none"/><path d="M617,11.6 L620,10.4 L622.6,11.2 L625.8,9.2 L629.3,11" stroke="#22962a" stroke-width="1.1" fill="none"/>
<polygon points="638,6 643,6 640.5,8.8" fill="#000"/>
<rect x="649" y="0" width="1" height="16.5" fill="#a0a0a0" shape-rendering="crispEdges"/><rect x="650" y="0" width="1" height="16.5" fill="#fcfcfc" shape-rendering="crispEdges"/>
<rect x="652.8" y="1" width="3" height="1" fill="#a8a8a8" shape-rendering="crispEdges"/><rect x="652.8" y="3" width="3" height="1" fill="#a8a8a8" shape-rendering="crispEdges"/><rect x="652.8" y="5" width="3" height="1" fill="#a8a8a8" shape-rendering="crispEdges"/><rect x="652.8" y="7" width="3" height="1" fill="#a8a8a8" shape-rendering="crispEdges"/><rect x="652.8" y="9" width="3" height="1" fill="#a8a8a8" shape-rendering="crispEdges"/><rect x="652.8" y="11" width="3" height="1" fill="#a8a8a8" shape-rendering="crispEdges"/><rect x="652.8" y="13" width="3" height="1" fill="#a8a8a8" shape-rendering="crispEdges"/><rect x="652.8" y="15" width="3" height="1" fill="#a8a8a8" shape-rendering="crispEdges"/>
<rect x="659" y="0" width="1" height="16.5" fill="#a0a0a0" shape-rendering="crispEdges"/><rect x="660" y="0" width="1" height="16.5" fill="#fcfcfc" shape-rendering="crispEdges"/>
<rect x="661" y="0" width="23" height="17" fill="#f9f9f9"/>
<polygon points="667.3,-1 667.3,10.6 670,8.2 672.4,13.6 674,12.8 671.6,7.5 675.3,7.5" fill="#404040"/>
<path d="M692,7.5 H698 M701.2,7.5 H707 M699.6,0 V5.9 M699.6,9.1 V14.6" stroke="#454545" stroke-width="1.3"/><rect x="699.1" y="7" width="1" height="1" fill="#454545"/>
<rect x="716" y="0" width="1" height="16.5" fill="#a0a0a0" shape-rendering="crispEdges"/><rect x="717" y="0" width="1" height="16.5" fill="#fcfcfc" shape-rendering="crispEdges"/>
<path d="M733.4,1.2 V13.7 M756,7.5 H767.9 M783.8,13.7 L795.8,1.9" stroke="#454545" stroke-width="1.3"/>
<path d="M810,9.5 L821,-1 M811.5,13.5 L823.5,2 M811.3,8 L812.5,13.5 M814.6,5 L815.8,10.2 M817.9,2 L819,7 M821,-1 L822.3,4" stroke="#555" stroke-width="1.1" fill="none"/>
<path d="M839,0.5H852M839,4H852M839,7.5H852M839,11.6H847" stroke="#555" stroke-width="1" stroke-dasharray="1,1" shape-rendering="crispEdges"/>
<rect x="896.3" y="1" width="11.2" height="12.4" fill="none" stroke="#555" stroke-width="1" stroke-dasharray="1,1" shape-rendering="crispEdges"/><path d="M895.6,0.4 L897.2,0.4" stroke="#333" stroke-width="1.4"/>
<polygon points="926.2,0.8 929.2,3.8 926.2,6.2 923.3,3.8" fill="#505050"/><polygon points="933.6,8 936.8,10.6 933.6,13.6 930.4,10.6" fill="#505050"/><path d="M925.3,8.6 L927.4,10.4 L932,5.4" stroke="#505050" stroke-width="1.2" fill="none"/>
<polygon points="944,6 949,6 946.5,8.8" fill="#000"/>
<rect x="955" y="0" width="1" height="16.5" fill="#a0a0a0" shape-rendering="crispEdges"/><rect x="956" y="0" width="1" height="16.5" fill="#fcfcfc" shape-rendering="crispEdges"/>
<rect x="959" y="1" width="3" height="1" fill="#a8a8a8" shape-rendering="crispEdges"/><rect x="959" y="3" width="3" height="1" fill="#a8a8a8" shape-rendering="crispEdges"/><rect x="959" y="5" width="3" height="1" fill="#a8a8a8" shape-rendering="crispEdges"/><rect x="959" y="7" width="3" height="1" fill="#a8a8a8" shape-rendering="crispEdges"/><rect x="959" y="9" width="3" height="1" fill="#a8a8a8" shape-rendering="crispEdges"/><rect x="959" y="11" width="3" height="1" fill="#a8a8a8" shape-rendering="crispEdges"/><rect x="959" y="13" width="3" height="1" fill="#a8a8a8" shape-rendering="crispEdges"/><rect x="959" y="15" width="3" height="1" fill="#a8a8a8" shape-rendering="crispEdges"/>
<rect x="1133" y="0" width="1" height="17" fill="#a0a0a0" shape-rendering="crispEdges"/><rect x="1134" y="0" width="1" height="17" fill="#fcfcfc" shape-rendering="crispEdges"/>
<rect x="1135" y="0" width="23" height="17" fill="#f9f9f9"/>
<rect x="1216" y="0" width="1" height="18" fill="#a0a0a0" shape-rendering="crispEdges"/><rect x="1217" y="0" width="1" height="18" fill="#fcfcfc" shape-rendering="crispEdges"/>
<line x1="1684" y1="7.2" x2="1679" y2="11.8" stroke="#2a5fd0" stroke-width="2.3" stroke-linecap="round"/><circle cx="1686.6" cy="4.4" r="3.7" fill="#f4f4f4" stroke="#2a5fd0" stroke-width="1.3"/>
<path d="M1704.5,13 L1706.3,15.6 L1707.8,13.3" fill="#c8c8d0"/><ellipse cx="1708.2" cy="9.2" rx="4.9" ry="4.2" fill="#dedee6" stroke="#bcbcc6" stroke-width="0.8"/>
<circle cx="1717.4" cy="4.4" r="8.2" fill="url(#badge)"/>
</svg>
<div class="t" style="left:1690px;top:48.5px;font-size:9.25px;color:#000;font-weight:normal;">1.42520</div>
<div class="t" style="left:1690px;top:81.5px;font-size:9.25px;color:#000;font-weight:normal;">1.41500</div>
<div class="t" style="left:1690px;top:114.5px;font-size:9.25px;color:#000;font-weight:normal;">1.40510</div>
<div class="t" style="left:1690px;top:147.5px;font-size:9.25px;color:#000;font-weight:normal;">1.39490</div>
<div class="t" style="left:1690px;top:180.5px;font-size:9.25px;color:#000;font-weight:normal;">1.38500</div>
<div class="t" style="left:1690px;top:279.5px;font-size:9.25px;color:#000;font-weight:normal;">1.35470</div>
<div class="t" style="left:1690px;top:312.5px;font-size:9.25px;color:#000;font-weight:normal;">1.34480</div>
<div class="t" style="left:1690px;top:345.5px;font-size:9.25px;color:#000;font-weight:normal;">1.33460</div>
<div class="t" style="left:1690px;top:378.5px;font-size:9.25px;color:#000;font-weight:normal;">1.32470</div>
<div class="t" style="left:1690px;top:411.5px;font-size:9.25px;color:#000;font-weight:normal;">1.31450</div>
<div class="t" style="left:1690px;top:444.5px;font-size:9.25px;color:#000;font-weight:normal;">1.30460</div>
<div class="t" style="left:1690px;top:477.5px;font-size:9.25px;color:#000;font-weight:normal;">1.29440</div>
<div class="t" style="left:1690px;top:510.5px;font-size:9.25px;color:#000;font-weight:normal;">1.28450</div>
<div class="t" style="left:1690px;top:543.5px;font-size:9.25px;color:#000;font-weight:normal;">1.27430</div>
<div class="t" style="left:1690px;top:576.5px;font-size:9.25px;color:#000;font-weight:normal;">1.26440</div>
<div class="t" style="left:1690px;top:167.5px;font-size:9.25px;color:#fff;font-weight:normal;">1.38882</div>
<div class="t" style="left:1690px;top:193.5px;font-size:9.25px;color:#fff;font-weight:normal;">1.38091</div>
<div class="t" style="left:1690px;top:207.5px;font-size:9.25px;color:#fff;font-weight:normal;">1.37665</div>
<div class="t" style="left:1690px;top:218.5px;font-size:9.25px;color:#fff;font-weight:normal;">1.37358</div>
<div class="t" style="left:1690px;top:232.5px;font-size:9.25px;color:#fff;font-weight:normal;">1.36905</div>
<div class="t" style="left:1690px;top:250.5px;font-size:9.25px;color:#fff;font-weight:normal;">1.36357</div>
<div class="t" style="left:1688px;top:589px;font-size:9.25px;color:#000;font-weight:normal;">0.012372</div>
<div class="t" style="left:1688px;top:675px;font-size:9.25px;color:#000;font-weight:normal;">0.00</div>
<div class="t" style="left:1688.3px;top:745px;font-size:9.25px;color:#000;font-weight:normal;">-0.010374</div>
<div class="t" style="left:1687.6px;top:761px;font-size:9.25px;color:#000;font-weight:normal;">100</div>
<div class="t" style="left:1687.4px;top:790px;font-size:9.25px;color:#000;font-weight:normal;">80</div>
<div class="t" style="left:1687.4px;top:841px;font-size:9.25px;color:#000;font-weight:normal;">50</div>
<div class="t" style="left:1687.6px;top:902px;font-size:9.25px;color:#000;font-weight:normal;">15</div>
<div class="t" style="left:1688px;top:921px;font-size:9.25px;color:#000;font-weight:normal;">0</div>
<div class="t" style="left:-4px;top:937px;font-size:9.25px;color:#000;font-weight:normal;">9 Sep 2020</div>
<div class="t" style="left:60px;top:937px;font-size:9.25px;color:#000;font-weight:normal;">18 Sep 2020</div>
<div class="t" style="left:124px;top:937px;font-size:9.25px;color:#000;font-weight:normal;">28 Sep 2020</div>
<div class="t" style="left:188px;top:937px;font-size:9.25px;color:#000;font-weight:normal;">7 Oct 2020</div>
<div class="t" style="left:252px;top:937px;font-size:9.25px;color:#000;font-weight:normal;">16 Oct 2020</div>
<div class="t" style="left:316px;top:937px;font-size:9.25px;color:#000;font-weight:normal;">26 Oct 2020</div>
<div class="t" style="left:380px;top:937px;font-size:9.25px;color:#000;font-weight:normal;">4 Nov 2020</div>
<div class="t" style="left:444px;top:937px;font-size:9.25px;color:#000;font-weight:normal;">13 Nov 2020</div>
<div class="t" style="left:508px;top:937px;font-size:9.25px;color:#000;font-weight:normal;">23 Nov 2020</div>
<div class="t" style="left:572px;top:937px;font-size:9.25px;color:#000;font-weight:normal;">2 Dec 2020</div>
<div class="t" style="left:636px;top:937px;font-size:9.25px;color:#000;font-weight:normal;">11 Dec 2020</div>
<div class="t" style="left:700px;top:937px;font-size:9.25px;color:#000;font-weight:normal;">21 Dec 2020</div>
<div class="t" style="left:764px;top:937px;font-size:9.25px;color:#000;font-weight:normal;">31 Dec 2020</div>
<div class="t" style="left:828px;top:937px;font-size:9.25px;color:#000;font-weight:normal;">11 Jan 2021</div>
<div class="t" style="left:892px;top:937px;font-size:9.25px;color:#000;font-weight:normal;">20 Jan 2021</div>
<div class="t" style="left:956px;top:937px;font-size:9.25px;color:#000;font-weight:normal;">29 Jan 2021</div>
<div class="t" style="left:1020px;top:937px;font-size:9.25px;color:#000;font-weight:normal;">8 Feb 2021</div>
<div class="t" style="left:1084px;top:937px;font-size:9.25px;color:#000;font-weight:normal;">17 Feb 2021</div>
<div class="t" style="left:1148px;top:937px;font-size:9.25px;color:#000;font-weight:normal;">26 Feb 2021</div>
<div class="t" style="left:1212px;top:937px;font-size:9.25px;color:#000;font-weight:normal;">8 Mar 2021</div>
<div class="t" style="left:1276px;top:937px;font-size:9.25px;color:#000;font-weight:normal;">17 Mar 2021</div>
<div class="t" style="left:1340px;top:937px;font-size:9.25px;color:#000;font-weight:normal;">26 Mar 2021</div>
<div class="t" style="left:1404px;top:937px;font-size:9.25px;color:#000;font-weight:normal;">6 Apr 2021</div>
<div class="t" style="left:12px;top:35.5px;font-size:9.36px;color:#000;font-weight:normal;">GBPUSD-,Daily&nbsp; 1.38293 1.38391 1.37235 1.37358</div>
<div class="t" style="left:1px;top:591px;font-size:9.25px;color:#000;font-weight:normal;">MACD(12,26,9) -0.001976 -0.002724</div>
<div class="t" style="left:1px;top:763px;font-size:9.25px;color:#000;font-weight:normal;">RSI(14) 42.3547</div>
<div class="t" style="left:12.5px;top:58.1px;font-size:10.6px;color:#fff;font-weight:normal;">SELL</div>
<div class="t" style="left:180.3px;top:58.1px;font-size:11.2px;color:#fff;font-weight:normal;">BUY</div>
<div class="t" style="left:116.5px;top:57.3px;font-size:11.7px;color:#000;font-weight:normal;">1.00</div>
<div class="t" style="left:20.3px;top:98.2px;font-size:11.8px;color:#fff;font-weight:bold;">1.37</div>
<div class="t" style="left:130.7px;top:98.2px;font-size:11.8px;color:#fff;font-weight:bold;">1.37</div>
<div class="t" style="left:48.2px;top:98.2px;font-size:34.3px;color:#fff;font-weight:normal;transform-origin:0 0;transform:translateY(-0.8465em) scaleX(0.85);">35</div>
<div class="t" style="left:159.2px;top:98.2px;font-size:34.3px;color:#fff;font-weight:normal;transform-origin:0 0;transform:translateY(-0.8465em) scaleX(0.85);">38</div>
<div class="t" style="left:86.8px;top:82.9px;font-size:12.5px;color:#fff;font-weight:bold;">8</div>
<div class="t" style="left:198px;top:82.9px;font-size:12.5px;color:#fff;font-weight:bold;">5</div>
<div class="t" style="left:970.6px;top:10.6px;font-size:9.2px;color:#404040;font-weight:normal;font-family:"Liberation Sans", sans-serif;">M1</div>
<div class="t" style="left:998.7px;top:10.6px;font-size:9.2px;color:#404040;font-weight:normal;font-family:"Liberation Sans", sans-serif;">M5</div>
<div class="t" style="left:1024.7px;top:10.6px;font-size:9.2px;color:#404040;font-weight:normal;font-family:"Liberation Sans", sans-serif;">M15</div>
<div class="t" style="left:1052.8px;top:10.6px;font-size:9.2px;color:#404040;font-weight:normal;font-family:"Liberation Sans", sans-serif;">M30</div>
<div class="t" style="left:1083.7px;top:10.6px;font-size:9.2px;color:#404040;font-weight:normal;font-family:"Liberation Sans", sans-serif;">H1</div>
<div class="t" style="left:1110.8px;top:10.6px;font-size:9.2px;color:#404040;font-weight:normal;font-family:"Liberation Sans", sans-serif;">H4</div>
<div class="t" style="left:1139.7px;top:10.6px;font-size:9.2px;color:#404040;font-weight:normal;font-family:"Liberation Sans", sans-serif;">D1</div>
<div class="t" style="left:1167.1px;top:10.6px;font-size:9.2px;color:#404040;font-weight:normal;font-family:"Liberation Sans", sans-serif;">W1</div>
<div class="t" style="left:1193.5px;top:10.6px;font-size:9.2px;color:#404040;font-weight:normal;font-family:"Liberation Sans", sans-serif;">MN</div>
<div class="t" style="left:869.6px;top:11.6px;font-size:11.6px;color:#505050;font-weight:normal;font-family:"Liberation Sans", sans-serif;">A</div>
<div class="t" style="left:898.2px;top:11.8px;font-size:11.5px;color:#505050;font-weight:bold;font-family:"Liberation Sans", sans-serif;">T</div>
<div class="t" style="left:821px;top:15.7px;font-size:6.6px;color:#222;font-weight:bold;font-family:"Liberation Sans", sans-serif;">E</div>
<div class="t" style="left:848.8px;top:15.7px;font-size:6.6px;color:#222;font-weight:bold;font-family:"Liberation Sans", sans-serif;">F</div>
<div class="t" style="left:1713.2px;top:9.4px;font-size:13.5px;color:#fff;font-weight:bold;font-family:"Liberation Serif", serif;">1</div>
</body></html>
